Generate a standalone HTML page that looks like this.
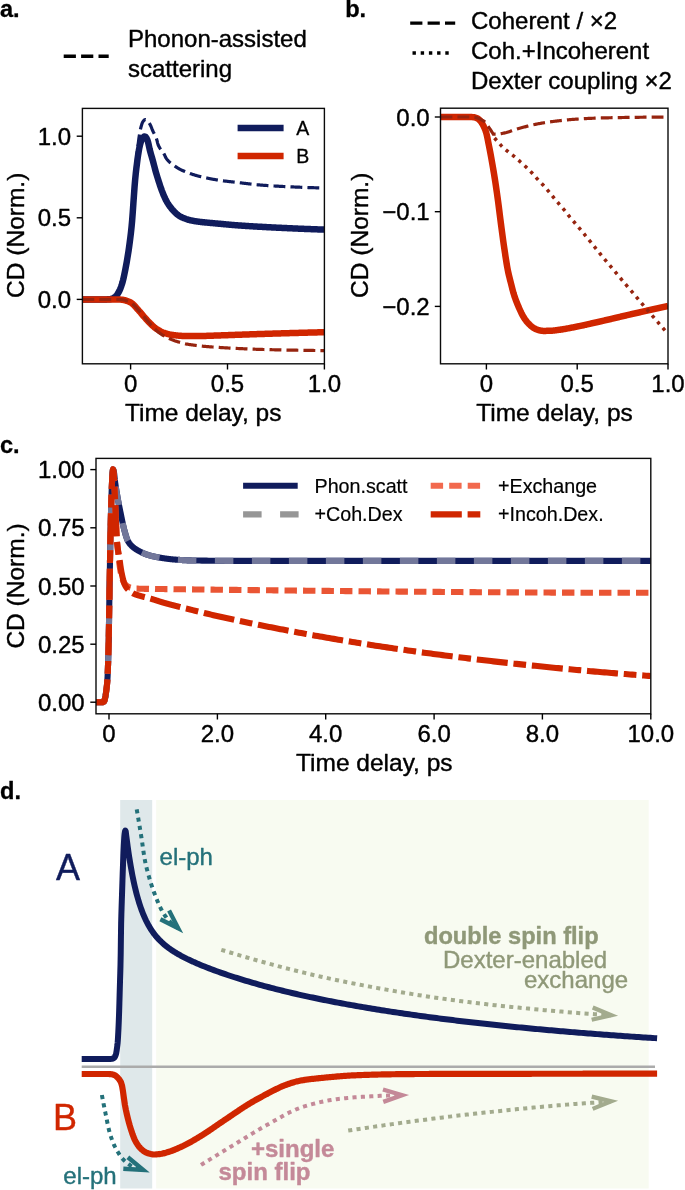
<!DOCTYPE html>
<html><head><meta charset="utf-8"><title>Figure</title>
<style>
html,body{margin:0;padding:0;background:#fff;}
svg{display:block;font-family:"Liberation Sans",sans-serif;}
</style></head><body>
<svg width="685" height="1190" viewBox="0 0 685 1190">
<rect width="685" height="1190" fill="#fff"/>
<text transform="translate(0.00,17.00)" font-size="23.6" text-anchor="start" font-weight="bold" fill="#000" stroke="#000" stroke-width="0.3" stroke-linejoin="round">a.</text>
<text transform="translate(345.20,17.00)" font-size="23.6" text-anchor="start" font-weight="bold" fill="#000" stroke="#000" stroke-width="0.3" stroke-linejoin="round">b.</text>
<text transform="translate(0.00,453.00)" font-size="23.6" text-anchor="start" font-weight="bold" fill="#000" stroke="#000" stroke-width="0.3" stroke-linejoin="round">c.</text>
<text transform="translate(0.00,799.20)" font-size="23.6" text-anchor="start" font-weight="bold" fill="#000" stroke="#000" stroke-width="0.3" stroke-linejoin="round">d.</text>
<clipPath id="clipA"><rect x="82.4" y="108.4" width="241.99999999999997" height="255.4"/></clipPath>
<line x1="63.70" y1="56.30" x2="108.70" y2="56.30" stroke="#000" stroke-width="3.4" stroke-dasharray="12.2 5.2"/>
<text transform="translate(128.00,47.40)" font-size="24" text-anchor="start" font-weight="normal" fill="#000" stroke="#000" stroke-width="0.4" stroke-linejoin="round">Phonon-assisted</text>
<text transform="translate(128.00,76.60)" font-size="24" text-anchor="start" font-weight="normal" fill="#000" stroke="#000" stroke-width="0.4" stroke-linejoin="round">scattering</text>
<path d="M82.40,299.40 L83.01,299.40 L83.61,299.40 L84.22,299.40 L84.83,299.40 L85.43,299.40 L86.04,299.40 L86.65,299.40 L87.25,299.40 L87.86,299.40 L88.47,299.40 L89.07,299.40 L89.68,299.40 L90.28,299.40 L90.89,299.40 L91.50,299.40 L92.10,299.40 L92.71,299.40 L93.32,299.40 L93.92,299.40 L94.53,299.40 L95.14,299.40 L95.74,299.40 L96.35,299.40 L96.96,299.40 L97.56,299.40 L98.17,299.40 L98.78,299.40 L99.38,299.40 L99.99,299.40 L100.60,299.40 L101.20,299.40 L101.81,299.40 L102.42,299.40 L103.02,299.40 L103.63,299.40 L104.23,299.40 L104.84,299.40 L105.45,299.40 L106.05,299.39 L106.66,299.38 L107.27,299.36 L107.87,299.33 L108.48,299.30 L109.09,299.26 L109.69,299.22 L110.30,299.17 L110.91,299.03 L111.51,298.81 L112.12,298.53 L112.73,298.19 L113.33,297.81 L113.94,297.40 L114.55,296.97 L115.15,296.44 L115.76,295.79 L116.36,295.02 L116.97,294.15 L117.58,293.20 L118.18,292.18 L118.79,291.03 L119.40,289.72 L120.00,288.25 L120.61,286.64 L121.22,284.87 L121.82,282.94 L122.43,280.69 L123.04,278.17 L123.64,275.41 L124.25,272.46 L124.86,269.38 L125.46,266.20 L126.07,262.91 L126.68,259.42 L127.28,255.74 L127.89,251.84 L128.50,247.72 L129.10,243.36 L129.71,238.76 L130.31,233.77 L130.92,228.21 L131.53,221.89 L132.13,214.08 L132.74,205.33 L133.35,196.89 L133.95,188.46 L134.56,180.55 L135.17,173.25 L135.77,166.40 L136.38,160.11 L136.99,154.48 L137.59,149.19 L138.20,143.83 L138.81,138.94 L139.41,134.98 L140.02,131.47 L140.63,128.50 L141.23,126.17 L141.84,124.14 L142.45,122.50 L143.05,121.43 L143.66,120.71 L144.26,120.09 L144.87,119.67 L145.48,119.50 L146.08,119.67 L146.69,120.12 L147.30,120.73 L147.90,121.40 L148.51,122.09 L149.12,122.93 L149.72,123.90 L150.33,124.98 L150.94,126.23 L151.54,127.80 L152.15,129.38 L152.76,130.75 L153.36,132.00 L153.97,133.19 L154.58,134.38 L155.18,135.62 L155.79,136.99 L156.39,138.54 L157.00,140.41 L157.61,143.12 L158.21,145.02 L158.82,146.34 L159.43,147.46 L160.03,148.42 L160.64,149.28 L161.25,150.06 L161.85,150.81 L162.46,151.58 L163.07,152.39 L163.67,153.30 L164.28,154.35 L164.89,155.64 L165.49,157.02 L166.10,158.16 L166.71,158.97 L167.31,159.71 L167.92,160.41 L168.53,161.06 L169.13,161.66 L169.74,162.23 L170.34,162.76 L170.95,163.27 L171.56,163.75 L172.16,164.21 L172.77,164.65 L173.38,165.08 L173.98,165.51 L174.59,165.93 L175.20,166.36 L175.80,166.78 L176.41,167.19 L177.02,167.59 L177.62,167.97 L178.23,168.33 L178.84,168.68 L179.44,169.01 L180.05,169.32 L180.66,169.63 L181.26,169.93 L181.87,170.21 L182.48,170.50 L183.08,170.77 L183.69,171.04 L184.29,171.30 L184.90,171.56 L185.51,171.81 L186.11,172.05 L186.72,172.29 L187.33,172.52 L187.93,172.75 L188.54,172.98 L189.15,173.20 L189.75,173.41 L190.36,173.63 L190.97,173.83 L191.57,174.04 L192.18,174.24 L192.79,174.44 L193.39,174.64 L194.00,174.83 L194.61,175.01 L195.21,175.20 L195.82,175.38 L196.43,175.55 L197.03,175.73 L197.64,175.89 L198.24,176.06 L198.85,176.21 L199.46,176.37 L200.06,176.52 L200.67,176.66 L201.28,176.81 L201.88,176.95 L202.49,177.09 L203.10,177.23 L203.70,177.37 L204.31,177.50 L204.92,177.64 L205.52,177.77 L206.13,177.90 L206.74,178.03 L207.34,178.15 L207.95,178.28 L208.56,178.40 L209.16,178.53 L209.77,178.65 L210.37,178.76 L210.98,178.88 L211.59,179.00 L212.19,179.11 L212.80,179.22 L213.41,179.33 L214.01,179.44 L214.62,179.54 L215.23,179.65 L215.83,179.75 L216.44,179.85 L217.05,179.95 L217.65,180.04 L218.26,180.14 L218.87,180.23 L219.47,180.32 L220.08,180.41 L220.69,180.50 L221.29,180.58 L221.90,180.67 L222.51,180.75 L223.11,180.83 L223.72,180.90 L224.32,180.98 L224.93,181.05 L225.54,181.13 L226.14,181.20 L226.75,181.27 L227.36,181.34 L227.96,181.40 L228.57,181.47 L229.18,181.54 L229.78,181.61 L230.39,181.67 L231.00,181.74 L231.60,181.80 L232.21,181.87 L232.82,181.93 L233.42,182.00 L234.03,182.07 L234.64,182.13 L235.24,182.20 L235.85,182.27 L236.46,182.34 L237.06,182.41 L237.67,182.48 L238.27,182.55 L238.88,182.62 L239.49,182.69 L240.09,182.77 L240.70,182.84 L241.31,182.92 L241.91,182.99 L242.52,183.07 L243.13,183.14 L243.73,183.22 L244.34,183.29 L244.95,183.37 L245.55,183.44 L246.16,183.52 L246.77,183.59 L247.37,183.67 L247.98,183.74 L248.59,183.81 L249.19,183.89 L249.80,183.96 L250.41,184.03 L251.01,184.10 L251.62,184.17 L252.22,184.24 L252.83,184.31 L253.44,184.37 L254.04,184.44 L254.65,184.50 L255.26,184.57 L255.86,184.63 L256.47,184.69 L257.08,184.75 L257.68,184.80 L258.29,184.86 L258.90,184.91 L259.50,184.96 L260.11,185.01 L260.72,185.06 L261.32,185.10 L261.93,185.15 L262.54,185.20 L263.14,185.24 L263.75,185.29 L264.35,185.33 L264.96,185.38 L265.57,185.42 L266.17,185.46 L266.78,185.50 L267.39,185.55 L267.99,185.59 L268.60,185.63 L269.21,185.67 L269.81,185.71 L270.42,185.75 L271.03,185.79 L271.63,185.83 L272.24,185.86 L272.85,185.90 L273.45,185.94 L274.06,185.98 L274.67,186.01 L275.27,186.05 L275.88,186.08 L276.49,186.12 L277.09,186.15 L277.70,186.19 L278.30,186.22 L278.91,186.25 L279.52,186.29 L280.12,186.32 L280.73,186.35 L281.34,186.38 L281.94,186.41 L282.55,186.45 L283.16,186.48 L283.76,186.51 L284.37,186.54 L284.98,186.57 L285.58,186.60 L286.19,186.62 L286.80,186.65 L287.40,186.68 L288.01,186.71 L288.62,186.74 L289.22,186.77 L289.83,186.79 L290.44,186.82 L291.04,186.85 L291.65,186.87 L292.25,186.90 L292.86,186.93 L293.47,186.95 L294.07,186.98 L294.68,187.00 L295.29,187.03 L295.89,187.06 L296.50,187.08 L297.11,187.11 L297.71,187.13 L298.32,187.16 L298.93,187.18 L299.53,187.21 L300.14,187.23 L300.75,187.25 L301.35,187.28 L301.96,187.30 L302.57,187.33 L303.17,187.35 L303.78,187.37 L304.38,187.40 L304.99,187.42 L305.60,187.44 L306.20,187.46 L306.81,187.48 L307.42,187.51 L308.02,187.53 L308.63,187.55 L309.24,187.57 L309.84,187.59 L310.45,187.61 L311.06,187.63 L311.66,187.65 L312.27,187.67 L312.88,187.69 L313.48,187.71 L314.09,187.73 L314.70,187.75 L315.30,187.77 L315.91,187.78 L316.52,187.80 L317.12,187.82 L317.73,187.84 L318.33,187.85 L318.94,187.87 L319.55,187.88 L320.15,187.90 L320.76,187.92 L321.37,187.93 L321.97,187.95 L322.58,187.96 L323.19,187.97 L323.79,187.99 L324.40,188.00" fill="none" stroke="#101c5c" stroke-width="3.2" stroke-linecap="butt" stroke-linejoin="round" stroke-dasharray="11.84 5.12" clip-path="url(#clipA)" />
<path d="M82.40,299.40 L83.01,299.40 L83.61,299.40 L84.22,299.40 L84.83,299.40 L85.43,299.40 L86.04,299.40 L86.65,299.40 L87.25,299.40 L87.86,299.40 L88.47,299.40 L89.07,299.40 L89.68,299.40 L90.28,299.40 L90.89,299.40 L91.50,299.40 L92.10,299.40 L92.71,299.40 L93.32,299.40 L93.92,299.40 L94.53,299.40 L95.14,299.40 L95.74,299.40 L96.35,299.40 L96.96,299.40 L97.56,299.40 L98.17,299.40 L98.78,299.40 L99.38,299.40 L99.99,299.40 L100.60,299.40 L101.20,299.40 L101.81,299.40 L102.42,299.40 L103.02,299.40 L103.63,299.40 L104.23,299.40 L104.84,299.40 L105.45,299.40 L106.05,299.39 L106.66,299.38 L107.27,299.36 L107.87,299.33 L108.48,299.30 L109.09,299.26 L109.69,299.22 L110.30,299.17 L110.91,299.06 L111.51,298.88 L112.12,298.65 L112.73,298.37 L113.33,298.04 L113.94,297.69 L114.55,297.30 L115.15,296.89 L115.76,296.36 L116.36,295.68 L116.97,294.89 L117.58,293.99 L118.18,293.02 L118.79,291.99 L119.40,290.81 L120.00,289.47 L120.61,287.98 L121.22,286.34 L121.82,284.55 L122.43,282.57 L123.04,280.27 L123.64,277.70 L124.25,274.90 L124.86,271.93 L125.46,268.82 L126.07,265.63 L126.68,262.31 L127.28,258.79 L127.89,255.07 L128.50,251.14 L129.10,246.97 L129.71,242.57 L130.31,237.92 L130.92,232.84 L131.53,227.16 L132.13,220.65 L132.74,212.56 L133.35,203.82 L133.95,195.26 L134.56,186.68 L135.17,179.51 L135.77,173.53 L136.38,168.20 L136.99,163.32 L137.59,158.69 L138.20,154.37 L138.81,150.67 L139.41,147.50 L140.02,144.75 L140.63,142.61 L141.23,140.82 L141.84,139.33 L142.45,138.27 L143.05,137.54 L143.66,136.91 L144.26,136.50 L144.87,136.42 L145.48,136.80 L146.08,137.56 L146.69,138.56 L147.30,139.70 L147.90,141.51 L148.51,144.04 L149.12,146.87 L149.72,149.60 L150.33,151.91 L150.94,154.06 L151.54,156.15 L152.15,158.24 L152.76,160.38 L153.36,162.62 L153.97,164.95 L154.58,167.30 L155.18,169.59 L155.79,171.76 L156.39,173.85 L157.00,175.88 L157.61,177.85 L158.21,179.79 L158.82,181.67 L159.43,183.55 L160.03,185.39 L160.64,187.20 L161.25,188.94 L161.85,190.60 L162.46,192.16 L163.07,193.68 L163.67,195.16 L164.28,196.58 L164.89,197.94 L165.49,199.23 L166.10,200.44 L166.71,201.55 L167.31,202.60 L167.92,203.58 L168.53,204.51 L169.13,205.40 L169.74,206.24 L170.34,207.06 L170.95,207.84 L171.56,208.59 L172.16,209.30 L172.77,209.99 L173.38,210.66 L173.98,211.31 L174.59,211.95 L175.20,212.56 L175.80,213.15 L176.41,213.71 L177.02,214.21 L177.62,214.69 L178.23,215.14 L178.84,215.56 L179.44,215.96 L180.05,216.33 L180.66,216.68 L181.26,216.99 L181.87,217.30 L182.48,217.58 L183.08,217.85 L183.69,218.11 L184.29,218.35 L184.90,218.58 L185.51,218.80 L186.11,219.02 L186.72,219.22 L187.33,219.42 L187.93,219.61 L188.54,219.80 L189.15,219.97 L189.75,220.13 L190.36,220.28 L190.97,220.41 L191.57,220.54 L192.18,220.66 L192.79,220.77 L193.39,220.89 L194.00,220.99 L194.61,221.09 L195.21,221.19 L195.82,221.29 L196.43,221.38 L197.03,221.47 L197.64,221.55 L198.24,221.64 L198.85,221.72 L199.46,221.80 L200.06,221.87 L200.67,221.95 L201.28,222.02 L201.88,222.09 L202.49,222.16 L203.10,222.23 L203.70,222.29 L204.31,222.35 L204.92,222.41 L205.52,222.47 L206.13,222.53 L206.74,222.58 L207.34,222.64 L207.95,222.69 L208.56,222.75 L209.16,222.80 L209.77,222.86 L210.37,222.91 L210.98,222.97 L211.59,223.03 L212.19,223.08 L212.80,223.14 L213.41,223.20 L214.01,223.25 L214.62,223.31 L215.23,223.37 L215.83,223.42 L216.44,223.48 L217.05,223.53 L217.65,223.59 L218.26,223.64 L218.87,223.70 L219.47,223.75 L220.08,223.81 L220.69,223.86 L221.29,223.92 L221.90,223.97 L222.51,224.03 L223.11,224.09 L223.72,224.14 L224.32,224.20 L224.93,224.26 L225.54,224.31 L226.14,224.37 L226.75,224.43 L227.36,224.48 L227.96,224.54 L228.57,224.59 L229.18,224.65 L229.78,224.71 L230.39,224.76 L231.00,224.81 L231.60,224.87 L232.21,224.92 L232.82,224.97 L233.42,225.02 L234.03,225.07 L234.64,225.12 L235.24,225.17 L235.85,225.21 L236.46,225.26 L237.06,225.30 L237.67,225.35 L238.27,225.39 L238.88,225.43 L239.49,225.48 L240.09,225.52 L240.70,225.56 L241.31,225.60 L241.91,225.65 L242.52,225.69 L243.13,225.73 L243.73,225.77 L244.34,225.81 L244.95,225.85 L245.55,225.89 L246.16,225.93 L246.77,225.97 L247.37,226.01 L247.98,226.05 L248.59,226.08 L249.19,226.12 L249.80,226.16 L250.41,226.20 L251.01,226.24 L251.62,226.27 L252.22,226.31 L252.83,226.35 L253.44,226.38 L254.04,226.42 L254.65,226.46 L255.26,226.49 L255.86,226.53 L256.47,226.56 L257.08,226.60 L257.68,226.63 L258.29,226.67 L258.90,226.70 L259.50,226.74 L260.11,226.77 L260.72,226.81 L261.32,226.84 L261.93,226.87 L262.54,226.91 L263.14,226.94 L263.75,226.97 L264.35,227.01 L264.96,227.04 L265.57,227.07 L266.17,227.10 L266.78,227.14 L267.39,227.17 L267.99,227.20 L268.60,227.23 L269.21,227.26 L269.81,227.29 L270.42,227.33 L271.03,227.36 L271.63,227.39 L272.24,227.42 L272.85,227.45 L273.45,227.48 L274.06,227.51 L274.67,227.54 L275.27,227.57 L275.88,227.60 L276.49,227.63 L277.09,227.66 L277.70,227.69 L278.30,227.72 L278.91,227.75 L279.52,227.78 L280.12,227.81 L280.73,227.83 L281.34,227.86 L281.94,227.89 L282.55,227.92 L283.16,227.95 L283.76,227.98 L284.37,228.01 L284.98,228.03 L285.58,228.06 L286.19,228.09 L286.80,228.12 L287.40,228.15 L288.01,228.17 L288.62,228.20 L289.22,228.23 L289.83,228.26 L290.44,228.28 L291.04,228.31 L291.65,228.34 L292.25,228.37 L292.86,228.39 L293.47,228.42 L294.07,228.45 L294.68,228.47 L295.29,228.50 L295.89,228.52 L296.50,228.55 L297.11,228.58 L297.71,228.60 L298.32,228.63 L298.93,228.65 L299.53,228.68 L300.14,228.70 L300.75,228.73 L301.35,228.76 L301.96,228.78 L302.57,228.80 L303.17,228.83 L303.78,228.85 L304.38,228.88 L304.99,228.90 L305.60,228.93 L306.20,228.95 L306.81,228.97 L307.42,229.00 L308.02,229.02 L308.63,229.05 L309.24,229.07 L309.84,229.09 L310.45,229.11 L311.06,229.14 L311.66,229.16 L312.27,229.18 L312.88,229.21 L313.48,229.23 L314.09,229.25 L314.70,229.27 L315.30,229.29 L315.91,229.31 L316.52,229.34 L317.12,229.36 L317.73,229.38 L318.33,229.40 L318.94,229.42 L319.55,229.44 L320.15,229.46 L320.76,229.48 L321.37,229.50 L321.97,229.52 L322.58,229.54 L323.19,229.56 L323.79,229.58 L324.40,229.60" fill="none" stroke="#101c5c" stroke-width="6.5" stroke-linecap="butt" stroke-linejoin="round" clip-path="url(#clipA)" />
<path d="M82.40,299.50 L83.01,299.50 L83.61,299.50 L84.22,299.50 L84.83,299.50 L85.43,299.50 L86.04,299.50 L86.65,299.50 L87.25,299.50 L87.86,299.50 L88.47,299.50 L89.07,299.50 L89.68,299.50 L90.28,299.50 L90.89,299.50 L91.50,299.50 L92.10,299.50 L92.71,299.50 L93.32,299.50 L93.92,299.50 L94.53,299.50 L95.14,299.50 L95.74,299.50 L96.35,299.50 L96.96,299.50 L97.56,299.50 L98.17,299.50 L98.78,299.50 L99.38,299.50 L99.99,299.50 L100.60,299.50 L101.20,299.50 L101.81,299.50 L102.42,299.50 L103.02,299.50 L103.63,299.50 L104.23,299.50 L104.84,299.50 L105.45,299.50 L106.05,299.50 L106.66,299.50 L107.27,299.50 L107.87,299.50 L108.48,299.50 L109.09,299.50 L109.69,299.50 L110.30,299.50 L110.91,299.50 L111.51,299.50 L112.12,299.50 L112.73,299.50 L113.33,299.50 L113.94,299.50 L114.55,299.50 L115.15,299.50 L115.76,299.50 L116.36,299.50 L116.97,299.50 L117.58,299.50 L118.18,299.50 L118.79,299.51 L119.40,299.53 L120.00,299.56 L120.61,299.60 L121.22,299.64 L121.82,299.69 L122.43,299.75 L123.04,299.84 L123.64,299.97 L124.25,300.11 L124.86,300.26 L125.46,300.42 L126.07,300.61 L126.68,300.81 L127.28,301.03 L127.89,301.26 L128.50,301.49 L129.10,301.73 L129.71,301.99 L130.31,302.27 L130.92,302.60 L131.53,302.98 L132.13,303.45 L132.74,303.99 L133.35,304.56 L133.95,305.16 L134.56,305.77 L135.17,306.44 L135.77,307.14 L136.38,307.85 L136.99,308.56 L137.59,309.24 L138.20,309.92 L138.81,310.60 L139.41,311.28 L140.02,311.98 L140.63,312.68 L141.23,313.40 L141.84,314.14 L142.45,314.87 L143.05,315.59 L143.66,316.30 L144.26,317.00 L144.87,317.69 L145.48,318.37 L146.08,319.04 L146.69,319.71 L147.30,320.37 L147.90,321.03 L148.51,321.67 L149.12,322.31 L149.72,322.93 L150.33,323.53 L150.94,324.13 L151.54,324.71 L152.15,325.28 L152.76,325.83 L153.36,326.37 L153.97,326.90 L154.58,327.40 L155.18,327.89 L155.79,328.34 L156.39,328.76 L157.00,329.16 L157.61,329.54 L158.21,329.91 L158.82,330.27 L159.43,330.63 L160.03,330.98 L160.64,331.32 L161.25,331.64 L161.85,331.92 L162.46,332.19 L163.07,332.44 L163.67,332.67 L164.28,332.89 L164.89,333.10 L165.49,333.30 L166.10,333.49 L166.71,333.68 L167.31,333.86 L167.92,334.03 L168.53,334.19 L169.13,334.34 L169.74,334.47 L170.34,334.58 L170.95,334.70 L171.56,334.80 L172.16,334.90 L172.77,334.99 L173.38,335.08 L173.98,335.16 L174.59,335.24 L175.20,335.31 L175.80,335.38 L176.41,335.44 L177.02,335.51 L177.62,335.57 L178.23,335.63 L178.84,335.68 L179.44,335.74 L180.05,335.79 L180.66,335.83 L181.26,335.86 L181.87,335.89 L182.48,335.91 L183.08,335.93 L183.69,335.94 L184.29,335.96 L184.90,335.97 L185.51,335.99 L186.11,336.00 L186.72,336.01 L187.33,336.03 L187.93,336.04 L188.54,336.05 L189.15,336.06 L189.75,336.07 L190.36,336.08 L190.97,336.08 L191.57,336.09 L192.18,336.09 L192.79,336.10 L193.39,336.10 L194.00,336.10 L194.61,336.10 L195.21,336.10 L195.82,336.10 L196.43,336.09 L197.03,336.09 L197.64,336.08 L198.24,336.07 L198.85,336.06 L199.46,336.05 L200.06,336.04 L200.67,336.03 L201.28,336.02 L201.88,336.00 L202.49,335.99 L203.10,335.97 L203.70,335.96 L204.31,335.94 L204.92,335.92 L205.52,335.90 L206.13,335.88 L206.74,335.86 L207.34,335.84 L207.95,335.82 L208.56,335.80 L209.16,335.78 L209.77,335.76 L210.37,335.74 L210.98,335.72 L211.59,335.69 L212.19,335.67 L212.80,335.65 L213.41,335.63 L214.01,335.61 L214.62,335.58 L215.23,335.56 L215.83,335.54 L216.44,335.52 L217.05,335.50 L217.65,335.48 L218.26,335.46 L218.87,335.44 L219.47,335.42 L220.08,335.40 L220.69,335.38 L221.29,335.36 L221.90,335.34 L222.51,335.32 L223.11,335.30 L223.72,335.28 L224.32,335.26 L224.93,335.24 L225.54,335.21 L226.14,335.19 L226.75,335.17 L227.36,335.15 L227.96,335.13 L228.57,335.10 L229.18,335.08 L229.78,335.06 L230.39,335.04 L231.00,335.01 L231.60,334.99 L232.21,334.97 L232.82,334.95 L233.42,334.93 L234.03,334.90 L234.64,334.88 L235.24,334.86 L235.85,334.84 L236.46,334.82 L237.06,334.80 L237.67,334.78 L238.27,334.76 L238.88,334.74 L239.49,334.72 L240.09,334.69 L240.70,334.67 L241.31,334.65 L241.91,334.63 L242.52,334.61 L243.13,334.59 L243.73,334.57 L244.34,334.55 L244.95,334.53 L245.55,334.51 L246.16,334.49 L246.77,334.47 L247.37,334.45 L247.98,334.43 L248.59,334.41 L249.19,334.39 L249.80,334.37 L250.41,334.35 L251.01,334.32 L251.62,334.30 L252.22,334.28 L252.83,334.26 L253.44,334.24 L254.04,334.22 L254.65,334.20 L255.26,334.18 L255.86,334.16 L256.47,334.14 L257.08,334.12 L257.68,334.10 L258.29,334.08 L258.90,334.06 L259.50,334.04 L260.11,334.02 L260.72,334.00 L261.32,333.98 L261.93,333.96 L262.54,333.94 L263.14,333.92 L263.75,333.90 L264.35,333.88 L264.96,333.87 L265.57,333.85 L266.17,333.83 L266.78,333.81 L267.39,333.79 L267.99,333.77 L268.60,333.75 L269.21,333.73 L269.81,333.71 L270.42,333.69 L271.03,333.67 L271.63,333.65 L272.24,333.64 L272.85,333.62 L273.45,333.60 L274.06,333.58 L274.67,333.56 L275.27,333.54 L275.88,333.52 L276.49,333.51 L277.09,333.49 L277.70,333.47 L278.30,333.45 L278.91,333.43 L279.52,333.41 L280.12,333.40 L280.73,333.38 L281.34,333.36 L281.94,333.34 L282.55,333.32 L283.16,333.31 L283.76,333.29 L284.37,333.27 L284.98,333.25 L285.58,333.24 L286.19,333.22 L286.80,333.20 L287.40,333.18 L288.01,333.17 L288.62,333.15 L289.22,333.13 L289.83,333.11 L290.44,333.10 L291.04,333.08 L291.65,333.06 L292.25,333.05 L292.86,333.03 L293.47,333.01 L294.07,332.99 L294.68,332.98 L295.29,332.96 L295.89,332.94 L296.50,332.93 L297.11,332.91 L297.71,332.89 L298.32,332.88 L298.93,332.86 L299.53,332.84 L300.14,332.83 L300.75,332.81 L301.35,332.79 L301.96,332.78 L302.57,332.76 L303.17,332.74 L303.78,332.73 L304.38,332.71 L304.99,332.70 L305.60,332.68 L306.20,332.66 L306.81,332.65 L307.42,332.63 L308.02,332.61 L308.63,332.60 L309.24,332.58 L309.84,332.57 L310.45,332.55 L311.06,332.54 L311.66,332.52 L312.27,332.50 L312.88,332.49 L313.48,332.47 L314.09,332.46 L314.70,332.44 L315.30,332.43 L315.91,332.41 L316.52,332.40 L317.12,332.38 L317.73,332.36 L318.33,332.35 L318.94,332.33 L319.55,332.32 L320.15,332.30 L320.76,332.29 L321.37,332.27 L321.97,332.26 L322.58,332.24 L323.19,332.23 L323.79,332.21 L324.40,332.20" fill="none" stroke="#d02600" stroke-width="6.5" stroke-linecap="butt" stroke-linejoin="round" clip-path="url(#clipA)" />
<path d="M82.40,299.50 L83.01,299.50 L83.61,299.50 L84.22,299.50 L84.83,299.50 L85.43,299.50 L86.04,299.50 L86.65,299.50 L87.25,299.50 L87.86,299.50 L88.47,299.50 L89.07,299.50 L89.68,299.50 L90.28,299.50 L90.89,299.50 L91.50,299.50 L92.10,299.50 L92.71,299.50 L93.32,299.50 L93.92,299.50 L94.53,299.50 L95.14,299.50 L95.74,299.50 L96.35,299.50 L96.96,299.50 L97.56,299.50 L98.17,299.50 L98.78,299.50 L99.38,299.50 L99.99,299.50 L100.60,299.50 L101.20,299.50 L101.81,299.50 L102.42,299.50 L103.02,299.50 L103.63,299.50 L104.23,299.50 L104.84,299.50 L105.45,299.50 L106.05,299.50 L106.66,299.50 L107.27,299.50 L107.87,299.50 L108.48,299.50 L109.09,299.50 L109.69,299.50 L110.30,299.50 L110.91,299.50 L111.51,299.50 L112.12,299.50 L112.73,299.50 L113.33,299.50 L113.94,299.50 L114.55,299.50 L115.15,299.50 L115.76,299.50 L116.36,299.50 L116.97,299.50 L117.58,299.50 L118.18,299.50 L118.79,299.51 L119.40,299.53 L120.00,299.56 L120.61,299.60 L121.22,299.64 L121.82,299.69 L122.43,299.75 L123.04,299.84 L123.64,299.97 L124.25,300.11 L124.86,300.26 L125.46,300.42 L126.07,300.61 L126.68,300.81 L127.28,301.03 L127.89,301.26 L128.50,301.49 L129.10,301.73 L129.71,301.99 L130.31,302.27 L130.92,302.60 L131.53,302.98 L132.13,303.45 L132.74,303.99 L133.35,304.56 L133.95,305.16 L134.56,305.77 L135.17,306.44 L135.77,307.14 L136.38,307.85 L136.99,308.56 L137.59,309.24 L138.20,309.92 L138.81,310.60 L139.41,311.28 L140.02,311.98 L140.63,312.68 L141.23,313.40 L141.84,314.12 L142.45,314.85 L143.05,315.58 L143.66,316.31 L144.26,317.03 L144.87,317.76 L145.48,318.49 L146.08,319.21 L146.69,319.93 L147.30,320.64 L147.90,321.35 L148.51,322.06 L149.12,322.76 L149.72,323.45 L150.33,324.14 L150.94,324.81 L151.54,325.48 L152.15,326.13 L152.76,326.77 L153.36,327.40 L153.97,328.01 L154.58,328.62 L155.18,329.21 L155.79,329.77 L156.39,330.33 L157.00,330.87 L157.61,331.40 L158.21,331.91 L158.82,332.40 L159.43,332.88 L160.03,333.35 L160.64,333.80 L161.25,334.23 L161.85,334.63 L162.46,335.02 L163.07,335.39 L163.67,335.74 L164.28,336.08 L164.89,336.41 L165.49,336.74 L166.10,337.06 L166.71,337.37 L167.31,337.68 L167.92,337.98 L168.53,338.27 L169.13,338.56 L169.74,338.83 L170.34,339.09 L170.95,339.34 L171.56,339.59 L172.16,339.82 L172.77,340.05 L173.38,340.28 L173.98,340.49 L174.59,340.71 L175.20,340.91 L175.80,341.12 L176.41,341.31 L177.02,341.51 L177.62,341.70 L178.23,341.88 L178.84,342.06 L179.44,342.24 L180.05,342.41 L180.66,342.58 L181.26,342.76 L181.87,342.92 L182.48,343.09 L183.08,343.25 L183.69,343.41 L184.29,343.56 L184.90,343.70 L185.51,343.84 L186.11,343.96 L186.72,344.08 L187.33,344.19 L187.93,344.30 L188.54,344.40 L189.15,344.50 L189.75,344.60 L190.36,344.69 L190.97,344.78 L191.57,344.87 L192.18,344.95 L192.79,345.04 L193.39,345.12 L194.00,345.20 L194.61,345.28 L195.21,345.36 L195.82,345.44 L196.43,345.51 L197.03,345.59 L197.64,345.66 L198.24,345.74 L198.85,345.81 L199.46,345.88 L200.06,345.94 L200.67,346.01 L201.28,346.07 L201.88,346.13 L202.49,346.19 L203.10,346.25 L203.70,346.30 L204.31,346.36 L204.92,346.41 L205.52,346.46 L206.13,346.51 L206.74,346.56 L207.34,346.61 L207.95,346.66 L208.56,346.71 L209.16,346.75 L209.77,346.80 L210.37,346.85 L210.98,346.89 L211.59,346.94 L212.19,346.98 L212.80,347.02 L213.41,347.06 L214.01,347.11 L214.62,347.15 L215.23,347.19 L215.83,347.23 L216.44,347.27 L217.05,347.31 L217.65,347.35 L218.26,347.39 L218.87,347.43 L219.47,347.47 L220.08,347.51 L220.69,347.54 L221.29,347.58 L221.90,347.62 L222.51,347.66 L223.11,347.69 L223.72,347.73 L224.32,347.77 L224.93,347.80 L225.54,347.84 L226.14,347.87 L226.75,347.91 L227.36,347.94 L227.96,347.98 L228.57,348.01 L229.18,348.05 L229.78,348.08 L230.39,348.11 L231.00,348.15 L231.60,348.18 L232.21,348.21 L232.82,348.24 L233.42,348.28 L234.03,348.31 L234.64,348.34 L235.24,348.37 L235.85,348.40 L236.46,348.43 L237.06,348.46 L237.67,348.49 L238.27,348.52 L238.88,348.55 L239.49,348.58 L240.09,348.60 L240.70,348.63 L241.31,348.66 L241.91,348.69 L242.52,348.72 L243.13,348.74 L243.73,348.77 L244.34,348.80 L244.95,348.82 L245.55,348.85 L246.16,348.88 L246.77,348.90 L247.37,348.93 L247.98,348.96 L248.59,348.98 L249.19,349.01 L249.80,349.03 L250.41,349.06 L251.01,349.08 L251.62,349.11 L252.22,349.13 L252.83,349.15 L253.44,349.18 L254.04,349.20 L254.65,349.22 L255.26,349.24 L255.86,349.26 L256.47,349.29 L257.08,349.31 L257.68,349.33 L258.29,349.35 L258.90,349.37 L259.50,349.38 L260.11,349.40 L260.72,349.42 L261.32,349.44 L261.93,349.46 L262.54,349.47 L263.14,349.49 L263.75,349.51 L264.35,349.53 L264.96,349.54 L265.57,349.56 L266.17,349.58 L266.78,349.59 L267.39,349.61 L267.99,349.62 L268.60,349.64 L269.21,349.65 L269.81,349.67 L270.42,349.69 L271.03,349.70 L271.63,349.72 L272.24,349.73 L272.85,349.74 L273.45,349.76 L274.06,349.77 L274.67,349.79 L275.27,349.80 L275.88,349.82 L276.49,349.83 L277.09,349.84 L277.70,349.86 L278.30,349.87 L278.91,349.88 L279.52,349.89 L280.12,349.91 L280.73,349.92 L281.34,349.93 L281.94,349.95 L282.55,349.96 L283.16,349.97 L283.76,349.98 L284.37,349.99 L284.98,350.01 L285.58,350.02 L286.19,350.03 L286.80,350.04 L287.40,350.05 L288.01,350.06 L288.62,350.07 L289.22,350.09 L289.83,350.10 L290.44,350.11 L291.04,350.12 L291.65,350.13 L292.25,350.14 L292.86,350.15 L293.47,350.16 L294.07,350.17 L294.68,350.18 L295.29,350.19 L295.89,350.20 L296.50,350.21 L297.11,350.22 L297.71,350.23 L298.32,350.24 L298.93,350.25 L299.53,350.26 L300.14,350.27 L300.75,350.28 L301.35,350.29 L301.96,350.30 L302.57,350.31 L303.17,350.32 L303.78,350.33 L304.38,350.34 L304.99,350.35 L305.60,350.36 L306.20,350.37 L306.81,350.38 L307.42,350.39 L308.02,350.40 L308.63,350.41 L309.24,350.41 L309.84,350.42 L310.45,350.43 L311.06,350.44 L311.66,350.45 L312.27,350.46 L312.88,350.47 L313.48,350.47 L314.09,350.48 L314.70,350.49 L315.30,350.50 L315.91,350.50 L316.52,350.51 L317.12,350.52 L317.73,350.53 L318.33,350.53 L318.94,350.54 L319.55,350.55 L320.15,350.56 L320.76,350.56 L321.37,350.57 L321.97,350.58 L322.58,350.58 L323.19,350.59 L323.79,350.59 L324.40,350.60" fill="none" stroke="#96240f" stroke-width="3.2" stroke-linecap="butt" stroke-linejoin="round" stroke-dasharray="11.84 5.12" clip-path="url(#clipA)" />
<line x1="237.60" y1="128.00" x2="283.60" y2="128.00" stroke="#101c5c" stroke-width="6.5" />
<line x1="237.60" y1="156.00" x2="283.60" y2="156.00" stroke="#d02600" stroke-width="6.5" />
<text transform="translate(296.30,135.20)" font-size="19.5" text-anchor="start" font-weight="normal" fill="#000" stroke="#000" stroke-width="0.3" stroke-linejoin="round">A</text>
<text transform="translate(296.30,163.20)" font-size="19.5" text-anchor="start" font-weight="normal" fill="#000" stroke="#000" stroke-width="0.3" stroke-linejoin="round">B</text>
<rect x="82.4" y="108.4" width="242.00" height="255.40" fill="none" stroke="#0a0a0a" stroke-width="1.4"/>
<line x1="130.60" y1="363.80" x2="130.60" y2="369.50" stroke="#000" stroke-width="1.4" />
<text transform="translate(130.60,391.80)" font-size="24" text-anchor="middle" font-weight="normal" fill="#000" stroke="#000" stroke-width="0.4" stroke-linejoin="round">0</text>
<line x1="227.50" y1="363.80" x2="227.50" y2="369.50" stroke="#000" stroke-width="1.4" />
<text transform="translate(227.50,391.80)" font-size="24" text-anchor="middle" font-weight="normal" fill="#000" stroke="#000" stroke-width="0.4" stroke-linejoin="round">0.5</text>
<line x1="324.40" y1="363.80" x2="324.40" y2="369.50" stroke="#000" stroke-width="1.4" />
<text transform="translate(324.40,391.80)" font-size="24" text-anchor="middle" font-weight="normal" fill="#000" stroke="#000" stroke-width="0.4" stroke-linejoin="round">1.0</text>
<line x1="76.70" y1="136.20" x2="82.40" y2="136.20" stroke="#000" stroke-width="1.4" />
<text transform="translate(71.00,144.80)" font-size="24" text-anchor="end" font-weight="normal" fill="#000" stroke="#000" stroke-width="0.4" stroke-linejoin="round">1.0</text>
<line x1="76.70" y1="217.80" x2="82.40" y2="217.80" stroke="#000" stroke-width="1.4" />
<text transform="translate(71.00,226.40)" font-size="24" text-anchor="end" font-weight="normal" fill="#000" stroke="#000" stroke-width="0.4" stroke-linejoin="round">0.5</text>
<line x1="76.70" y1="299.40" x2="82.40" y2="299.40" stroke="#000" stroke-width="1.4" />
<text transform="translate(71.00,308.00)" font-size="24" text-anchor="end" font-weight="normal" fill="#000" stroke="#000" stroke-width="0.4" stroke-linejoin="round">0.0</text>
<text transform="translate(203.20,420.50)" font-size="24.5" text-anchor="middle" font-weight="normal" fill="#000" stroke="#000" stroke-width="0.4" stroke-linejoin="round">Time delay, ps</text>
<text transform="translate(24.00,235.30) rotate(-90)" font-size="24.5" text-anchor="middle" font-weight="normal" fill="#000" stroke="#000" stroke-width="0.4" stroke-linejoin="round">CD (Norm.)</text>
<clipPath id="clipB"><rect x="440.5" y="108.2" width="227.5" height="255.60000000000002"/></clipPath>
<line x1="410.20" y1="23.10" x2="455.20" y2="23.10" stroke="#000" stroke-width="3.4" stroke-dasharray="12.2 5.2"/>
<line x1="412.50" y1="53.00" x2="449.90" y2="53.00" stroke="#000" stroke-width="3.4" stroke-dasharray="3.4 4.8"/>
<text transform="translate(471.00,29.10)" font-size="24" text-anchor="start" font-weight="normal" fill="#000" stroke="#000" stroke-width="0.4" stroke-linejoin="round">Coherent / ×2</text>
<text transform="translate(471.00,59.10)" font-size="24" text-anchor="start" font-weight="normal" fill="#000" stroke="#000" stroke-width="0.4" stroke-linejoin="round">Coh.+Incoherent</text>
<text transform="translate(471.00,88.60)" font-size="24" text-anchor="start" font-weight="normal" fill="#000" stroke="#000" stroke-width="0.4" stroke-linejoin="round">Dexter coupling ×2</text>
<path d="M440.50,117.00 L441.07,117.00 L441.64,117.00 L442.21,117.00 L442.78,117.00 L443.35,117.00 L443.92,117.00 L444.49,117.00 L445.06,117.00 L445.63,117.00 L446.20,117.00 L446.77,117.00 L447.34,117.00 L447.91,117.00 L448.48,117.00 L449.05,117.00 L449.62,117.00 L450.19,117.00 L450.76,117.00 L451.33,117.00 L451.90,117.00 L452.47,117.00 L453.04,117.00 L453.61,117.00 L454.18,117.00 L454.75,117.00 L455.32,117.00 L455.89,117.00 L456.46,117.00 L457.04,117.00 L457.61,117.00 L458.18,117.00 L458.75,117.00 L459.32,117.00 L459.89,117.00 L460.46,117.00 L461.03,117.00 L461.60,117.00 L462.17,117.00 L462.74,117.00 L463.31,117.00 L463.88,117.00 L464.45,117.00 L465.02,117.00 L465.59,117.00 L466.16,117.00 L466.73,117.00 L467.30,117.00 L467.87,117.00 L468.44,117.00 L469.01,117.00 L469.58,117.00 L470.15,117.00 L470.72,117.01 L471.29,117.04 L471.86,117.08 L472.43,117.13 L473.00,117.18 L473.57,117.25 L474.14,117.32 L474.71,117.42 L475.28,117.57 L475.85,117.75 L476.42,117.96 L476.99,118.20 L477.56,118.48 L478.13,118.85 L478.70,119.29 L479.27,119.79 L479.84,120.34 L480.41,120.95 L480.98,121.69 L481.55,122.53 L482.12,123.45 L482.69,124.45 L483.26,125.49 L483.83,126.60 L484.40,127.81 L484.97,129.15 L485.54,130.66 L486.11,132.36 L486.68,134.48 L487.25,137.00 L487.82,139.81 L488.39,142.77 L488.96,145.76 L489.54,148.68 L490.11,151.63 L490.68,154.66 L491.25,157.78 L491.82,160.96 L492.39,164.20 L492.96,167.50 L493.53,170.88 L494.10,174.33 L494.67,177.88 L495.24,181.53 L495.81,185.29 L496.38,189.17 L496.95,193.14 L497.52,197.22 L498.09,201.39 L498.66,205.76 L499.23,210.28 L499.80,214.85 L500.37,219.39 L500.94,223.79 L501.51,228.12 L502.08,232.43 L502.65,236.69 L503.22,240.85 L503.79,244.88 L504.36,248.75 L504.93,252.60 L505.50,256.40 L506.07,260.10 L506.64,263.64 L507.21,266.95 L507.78,270.00 L508.35,272.75 L508.92,275.26 L509.49,277.60 L510.06,279.84 L510.63,282.05 L511.20,284.30 L511.77,286.59 L512.34,288.85 L512.91,291.02 L513.48,293.05 L514.05,294.89 L514.62,296.62 L515.19,298.26 L515.76,299.83 L516.33,301.33 L516.90,302.78 L517.47,304.18 L518.04,305.53 L518.61,306.87 L519.18,308.18 L519.75,309.48 L520.32,310.74 L520.89,311.97 L521.46,313.16 L522.04,314.30 L522.61,315.38 L523.18,316.40 L523.75,317.36 L524.32,318.24 L524.89,319.08 L525.46,319.88 L526.03,320.64 L526.60,321.36 L527.17,322.04 L527.74,322.69 L528.31,323.30 L528.88,323.88 L529.45,324.45 L530.02,325.01 L530.59,325.55 L531.16,326.06 L531.73,326.55 L532.30,327.00 L532.87,327.43 L533.44,327.81 L534.01,328.15 L534.58,328.46 L535.15,328.75 L535.72,329.03 L536.29,329.29 L536.86,329.52 L537.43,329.74 L538.00,329.93 L538.57,330.10 L539.14,330.23 L539.71,330.36 L540.28,330.48 L540.85,330.60 L541.42,330.71 L541.99,330.79 L542.56,330.86 L543.13,330.89 L543.70,330.90 L544.27,330.90 L544.84,330.89 L545.41,330.89 L545.98,330.88 L546.55,330.87 L547.12,330.86 L547.69,330.85 L548.26,330.84 L548.83,330.83 L549.40,330.81 L549.97,330.80 L550.54,330.78 L551.11,330.75 L551.68,330.72 L552.25,330.68 L552.82,330.63 L553.39,330.57 L553.96,330.51 L554.54,330.44 L555.11,330.37 L555.68,330.30 L556.25,330.22 L556.82,330.14 L557.39,330.06 L557.96,329.98 L558.53,329.90 L559.10,329.82 L559.67,329.75 L560.24,329.67 L560.81,329.59 L561.38,329.51 L561.95,329.42 L562.52,329.33 L563.09,329.24 L563.66,329.15 L564.23,329.05 L564.80,328.95 L565.37,328.85 L565.94,328.75 L566.51,328.65 L567.08,328.54 L567.65,328.43 L568.22,328.33 L568.79,328.22 L569.36,328.11 L569.93,328.00 L570.50,327.89 L571.07,327.77 L571.64,327.66 L572.21,327.55 L572.78,327.44 L573.35,327.33 L573.92,327.22 L574.49,327.10 L575.06,326.99 L575.63,326.88 L576.20,326.76 L576.77,326.65 L577.34,326.53 L577.91,326.41 L578.48,326.30 L579.05,326.18 L579.62,326.06 L580.19,325.94 L580.76,325.82 L581.33,325.69 L581.90,325.57 L582.47,325.45 L583.04,325.32 L583.61,325.20 L584.18,325.08 L584.75,324.95 L585.32,324.82 L585.89,324.70 L586.46,324.57 L587.04,324.44 L587.61,324.32 L588.18,324.19 L588.75,324.06 L589.32,323.93 L589.89,323.80 L590.46,323.67 L591.03,323.54 L591.60,323.41 L592.17,323.28 L592.74,323.15 L593.31,323.02 L593.88,322.89 L594.45,322.76 L595.02,322.63 L595.59,322.50 L596.16,322.37 L596.73,322.24 L597.30,322.11 L597.87,321.98 L598.44,321.85 L599.01,321.72 L599.58,321.60 L600.15,321.47 L600.72,321.34 L601.29,321.21 L601.86,321.08 L602.43,320.95 L603.00,320.82 L603.57,320.69 L604.14,320.55 L604.71,320.42 L605.28,320.29 L605.85,320.16 L606.42,320.03 L606.99,319.89 L607.56,319.76 L608.13,319.63 L608.70,319.49 L609.27,319.36 L609.84,319.23 L610.41,319.09 L610.98,318.96 L611.55,318.82 L612.12,318.69 L612.69,318.56 L613.26,318.42 L613.83,318.29 L614.40,318.15 L614.97,318.02 L615.54,317.88 L616.11,317.75 L616.68,317.61 L617.25,317.48 L617.82,317.34 L618.39,317.21 L618.96,317.07 L619.54,316.94 L620.11,316.80 L620.68,316.67 L621.25,316.54 L621.82,316.40 L622.39,316.27 L622.96,316.13 L623.53,316.00 L624.10,315.87 L624.67,315.73 L625.24,315.60 L625.81,315.47 L626.38,315.33 L626.95,315.20 L627.52,315.07 L628.09,314.94 L628.66,314.81 L629.23,314.68 L629.80,314.55 L630.37,314.42 L630.94,314.29 L631.51,314.16 L632.08,314.03 L632.65,313.90 L633.22,313.77 L633.79,313.64 L634.36,313.51 L634.93,313.38 L635.50,313.25 L636.07,313.12 L636.64,312.99 L637.21,312.86 L637.78,312.73 L638.35,312.60 L638.92,312.47 L639.49,312.34 L640.06,312.21 L640.63,312.08 L641.20,311.95 L641.77,311.83 L642.34,311.70 L642.91,311.57 L643.48,311.44 L644.05,311.31 L644.62,311.18 L645.19,311.06 L645.76,310.93 L646.33,310.80 L646.90,310.67 L647.47,310.54 L648.04,310.42 L648.61,310.29 L649.18,310.16 L649.75,310.03 L650.32,309.90 L650.89,309.78 L651.46,309.65 L652.04,309.52 L652.61,309.40 L653.18,309.27 L653.75,309.14 L654.32,309.02 L654.89,308.89 L655.46,308.76 L656.03,308.64 L656.60,308.51 L657.17,308.38 L657.74,308.26 L658.31,308.13 L658.88,308.00 L659.45,307.88 L660.02,307.75 L660.59,307.63 L661.16,307.50 L661.73,307.38 L662.30,307.25 L662.87,307.12 L663.44,307.00 L664.01,306.87 L664.58,306.75 L665.15,306.62 L665.72,306.50 L666.29,306.37 L666.86,306.25 L667.43,306.12 L668.00,306.00" fill="none" stroke="#d02600" stroke-width="6.5" stroke-linecap="butt" stroke-linejoin="round" clip-path="url(#clipB)" />
<path d="M440.50,117.00 L441.39,117.00 L442.29,117.00 L443.18,117.00 L444.08,117.00 L444.97,117.00 L445.87,117.00 L446.76,117.00 L447.66,117.00 L448.55,117.00 L449.45,117.00 L450.34,117.00 L451.24,117.00 L452.13,117.00 L453.03,117.00 L453.92,117.00 L454.82,117.00 L455.71,117.00 L456.61,117.00 L457.50,117.00 L458.40,117.00 L459.29,117.00 L460.19,117.00 L461.08,117.00 L461.98,117.00 L462.87,117.00 L463.77,117.00 L464.66,117.00 L465.56,117.00 L466.45,117.00 L467.35,117.00 L468.24,117.00 L469.14,117.00 L470.03,117.00 L470.93,117.01 L471.82,117.05 L472.72,117.10 L473.61,117.17 L474.51,117.26 L475.40,117.41 L476.30,117.62 L477.19,117.85 L478.09,118.15 L478.98,118.52 L479.88,118.94 L480.77,119.38 L481.67,119.84 L482.56,120.31 L483.46,120.84 L484.35,121.46 L485.25,122.24 L486.14,123.42 L487.04,124.81 L487.93,126.11 L488.83,127.37 L489.72,128.65 L490.62,129.97 L491.51,131.34 L492.41,132.75 L493.30,134.20 L494.18,134.20 L495.06,134.20 L495.93,134.20 L496.81,134.20 L497.69,134.17 L498.57,134.08 L499.45,133.94 L500.32,133.78 L501.20,133.63 L502.08,133.48 L502.96,133.30 L503.83,133.11 L504.71,132.91 L505.59,132.70 L506.47,132.48 L507.35,132.23 L508.22,131.97 L509.10,131.69 L509.98,131.39 L510.86,131.09 L511.74,130.78 L512.61,130.47 L513.49,130.15 L514.37,129.85 L515.25,129.55 L516.13,129.27 L517.00,129.00 L517.88,128.74 L518.76,128.49 L519.64,128.24 L520.51,128.00 L521.39,127.76 L522.27,127.52 L523.15,127.29 L524.03,127.06 L524.90,126.83 L525.78,126.61 L526.66,126.38 L527.54,126.17 L528.42,125.95 L529.29,125.73 L530.17,125.52 L531.05,125.31 L531.93,125.10 L532.81,124.90 L533.68,124.70 L534.56,124.50 L535.44,124.32 L536.32,124.14 L537.19,123.96 L538.07,123.79 L538.95,123.63 L539.83,123.47 L540.71,123.31 L541.58,123.16 L542.46,123.01 L543.34,122.87 L544.22,122.73 L545.10,122.59 L545.97,122.45 L546.85,122.32 L547.73,122.19 L548.61,122.07 L549.48,121.95 L550.36,121.83 L551.24,121.71 L552.12,121.59 L553.00,121.48 L553.87,121.37 L554.75,121.26 L555.63,121.16 L556.51,121.06 L557.39,120.96 L558.26,120.86 L559.14,120.75 L560.02,120.65 L560.90,120.56 L561.78,120.46 L562.65,120.36 L563.53,120.26 L564.41,120.17 L565.29,120.07 L566.16,119.98 L567.04,119.89 L567.92,119.81 L568.80,119.72 L569.68,119.64 L570.55,119.57 L571.43,119.49 L572.31,119.42 L573.19,119.36 L574.07,119.30 L574.94,119.24 L575.82,119.18 L576.70,119.12 L577.58,119.06 L578.46,119.01 L579.33,118.95 L580.21,118.90 L581.09,118.85 L581.97,118.80 L582.84,118.75 L583.72,118.70 L584.60,118.65 L585.48,118.60 L586.36,118.55 L587.23,118.51 L588.11,118.47 L588.99,118.42 L589.87,118.38 L590.75,118.34 L591.62,118.30 L592.50,118.27 L593.38,118.23 L594.26,118.20 L595.14,118.16 L596.01,118.13 L596.89,118.10 L597.77,118.07 L598.65,118.04 L599.52,118.01 L600.40,117.99 L601.28,117.96 L602.16,117.94 L603.04,117.92 L603.91,117.89 L604.79,117.87 L605.67,117.85 L606.55,117.83 L607.43,117.81 L608.30,117.79 L609.18,117.77 L610.06,117.75 L610.94,117.73 L611.82,117.71 L612.69,117.69 L613.57,117.67 L614.45,117.65 L615.33,117.64 L616.20,117.62 L617.08,117.60 L617.96,117.59 L618.84,117.57 L619.72,117.56 L620.59,117.54 L621.47,117.53 L622.35,117.51 L623.23,117.50 L624.11,117.49 L624.98,117.47 L625.86,117.46 L626.74,117.45 L627.62,117.43 L628.49,117.42 L629.37,117.41 L630.25,117.40 L631.13,117.38 L632.01,117.37 L632.88,117.36 L633.76,117.35 L634.64,117.34 L635.52,117.32 L636.40,117.31 L637.27,117.30 L638.15,117.29 L639.03,117.28 L639.91,117.27 L640.79,117.26 L641.66,117.24 L642.54,117.23 L643.42,117.22 L644.30,117.21 L645.17,117.20 L646.05,117.19 L646.93,117.18 L647.81,117.17 L648.69,117.16 L649.56,117.15 L650.44,117.14 L651.32,117.13 L652.20,117.12 L653.08,117.12 L653.95,117.11 L654.83,117.10 L655.71,117.09 L656.59,117.08 L657.47,117.07 L658.34,117.07 L659.22,117.06 L660.10,117.05 L660.98,117.05 L661.85,117.04 L662.73,117.03 L663.61,117.03 L664.49,117.02 L665.37,117.02 L666.24,117.01 L667.12,117.00 L668.00,117.00" fill="none" stroke="#96240f" stroke-width="3.2" stroke-linecap="butt" stroke-linejoin="miter" stroke-dasharray="11.84 5.12" clip-path="url(#clipB)" />
<path d="M494.50,138.00 L496.25,140.01 L498.01,142.01 L499.76,144.01 L501.51,145.91 L503.26,147.60 L505.02,149.17 L506.77,150.64 L508.52,152.08 L510.27,153.43 L512.03,154.73 L513.78,156.06 L515.53,157.49 L517.28,159.03 L519.04,160.61 L520.79,162.20 L522.54,163.77 L524.29,165.36 L526.05,166.98 L527.80,168.67 L529.55,170.42 L531.30,172.23 L533.06,174.09 L534.81,176.06 L536.56,178.08 L538.31,180.03 L540.07,181.88 L541.82,183.69 L543.57,185.56 L545.32,187.51 L547.08,189.52 L548.83,191.58 L550.58,193.69 L552.33,195.86 L554.09,198.02 L555.84,200.14 L557.59,202.23 L559.34,204.31 L561.10,206.36 L562.85,208.39 L564.60,210.46 L566.35,212.62 L568.11,214.84 L569.86,217.03 L571.61,219.12 L573.36,221.18 L575.12,223.24 L576.87,225.31 L578.62,227.38 L580.37,229.46 L582.13,231.55 L583.88,233.65 L585.63,235.77 L587.38,237.91 L589.14,240.07 L590.89,242.25 L592.64,244.44 L594.39,246.63 L596.15,248.81 L597.90,250.99 L599.65,253.15 L601.40,255.29 L603.16,257.42 L604.91,259.55 L606.66,261.67 L608.41,263.78 L610.17,265.89 L611.92,267.99 L613.67,270.09 L615.42,272.18 L617.18,274.28 L618.93,276.36 L620.68,278.45 L622.43,280.53 L624.19,282.61 L625.94,284.69 L627.69,286.77 L629.44,288.84 L631.20,290.92 L632.95,292.99 L634.70,295.05 L636.45,297.12 L638.21,299.18 L639.96,301.24 L641.71,303.29 L643.46,305.35 L645.22,307.40 L646.97,309.45 L648.72,311.50 L650.47,313.55 L652.23,315.59 L653.98,317.64 L655.73,319.68 L657.48,321.73 L659.24,323.77 L660.99,325.82 L662.74,327.86 L664.49,329.91 L666.25,331.96 L668.00,334.00" fill="none" stroke="#96240f" stroke-width="3.5" stroke-linecap="butt" stroke-linejoin="round" stroke-dasharray="3.3 4.9" clip-path="url(#clipB)" />
<rect x="440.5" y="108.2" width="227.50" height="255.60" fill="none" stroke="#0a0a0a" stroke-width="1.4"/>
<line x1="486.40" y1="363.80" x2="486.40" y2="369.50" stroke="#000" stroke-width="1.4" />
<text transform="translate(486.40,391.80)" font-size="24" text-anchor="middle" font-weight="normal" fill="#000" stroke="#000" stroke-width="0.4" stroke-linejoin="round">0</text>
<line x1="577.20" y1="363.80" x2="577.20" y2="369.50" stroke="#000" stroke-width="1.4" />
<text transform="translate(577.20,391.80)" font-size="24" text-anchor="middle" font-weight="normal" fill="#000" stroke="#000" stroke-width="0.4" stroke-linejoin="round">0.5</text>
<line x1="668.00" y1="363.80" x2="668.00" y2="369.50" stroke="#000" stroke-width="1.4" />
<text transform="translate(668.00,391.80)" font-size="24" text-anchor="middle" font-weight="normal" fill="#000" stroke="#000" stroke-width="0.4" stroke-linejoin="round">1.0</text>
<line x1="434.80" y1="117.00" x2="440.50" y2="117.00" stroke="#000" stroke-width="1.4" />
<text transform="translate(429.70,125.60)" font-size="24" text-anchor="end" font-weight="normal" fill="#000" stroke="#000" stroke-width="0.4" stroke-linejoin="round">0.0</text>
<line x1="434.80" y1="211.70" x2="440.50" y2="211.70" stroke="#000" stroke-width="1.4" />
<text transform="translate(429.70,220.30)" font-size="24" text-anchor="end" font-weight="normal" fill="#000" stroke="#000" stroke-width="0.4" stroke-linejoin="round">−0.1</text>
<line x1="434.80" y1="306.40" x2="440.50" y2="306.40" stroke="#000" stroke-width="1.4" />
<text transform="translate(429.70,315.00)" font-size="24" text-anchor="end" font-weight="normal" fill="#000" stroke="#000" stroke-width="0.4" stroke-linejoin="round">−0.2</text>
<text transform="translate(554.50,420.50)" font-size="24.5" text-anchor="middle" font-weight="normal" fill="#000" stroke="#000" stroke-width="0.4" stroke-linejoin="round">Time delay, ps</text>
<text transform="translate(368.00,235.30) rotate(-90)" font-size="24.5" text-anchor="middle" font-weight="normal" fill="#000" stroke="#000" stroke-width="0.4" stroke-linejoin="round">CD (Norm.)</text>
<clipPath id="clipC"><rect x="96" y="458.4" width="554.8" height="255.39999999999998"/></clipPath>
<path d="M95.45,702.20 L97.22,702.20 L98.98,702.20 L100.74,702.20 L102.50,702.20 L102.50,702.20 L102.67,702.19 L102.85,702.15 L103.03,702.09 L103.20,702.01 L103.38,701.90 L103.55,701.78 L103.73,701.64 L103.91,701.48 L104.08,701.31 L104.26,701.07 L104.43,700.65 L104.61,700.08 L104.79,699.40 L104.96,698.65 L105.14,697.86 L105.31,697.05 L105.49,696.10 L105.66,695.04 L105.84,693.88 L106.02,692.63 L106.19,691.32 L106.37,689.97 L106.54,688.61 L106.72,687.19 L106.90,685.64 L107.07,683.86 L107.25,681.80 L107.42,679.35 L107.60,676.15 L107.78,672.14 L107.95,667.39 L108.13,661.99 L108.30,656.02 L108.48,649.54 L108.65,642.59 L108.83,633.78 L109.01,623.07 L109.18,611.38 L109.36,599.58 L109.53,588.57 L109.71,578.15 L109.89,567.53 L110.06,557.02 L110.24,546.91 L110.41,537.52 L110.59,529.15 L110.77,521.79 L110.94,514.90 L111.12,508.49 L111.29,502.54 L111.47,497.07 L111.64,492.06 L111.82,487.40 L112.00,482.83 L112.17,478.64 L112.35,475.20 L112.52,472.87 L112.70,471.24 L112.88,469.96 L113.05,469.40 L113.23,469.54 L113.40,469.94 L113.58,470.52 L113.76,471.22 L113.93,471.99 L114.11,473.13 L114.28,474.64 L114.46,476.35 L114.64,478.13 L114.81,479.81 L114.99,481.24 L115.16,482.53 L115.34,483.79 L115.51,485.01 L115.69,486.19 L115.87,487.35 L116.04,488.48 L116.22,489.59 L116.39,490.67 L116.57,491.73 L116.75,492.78 L116.92,493.82 L117.10,494.84 L117.27,495.85 L117.45,496.84 L117.63,497.82 L117.80,498.78 L117.98,499.73 L118.15,500.67 L118.33,501.60 L118.50,502.51 L118.68,503.42 L118.86,504.31 L119.03,505.20 L119.21,506.08 L119.38,506.95 L119.56,507.82 L119.74,508.69 L119.91,509.55 L120.09,510.41 L120.26,511.26 L120.44,512.12 L120.62,512.97 L120.79,513.83 L120.97,514.70 L121.14,515.57 L121.32,516.44 L121.50,517.31 L121.67,518.19 L121.85,519.06 L122.02,519.92 L122.20,520.79 L122.37,521.64 L122.55,522.48 L122.73,523.31 L122.90,524.13 L123.08,524.94 L123.25,525.72 L123.43,526.49 L123.61,527.23 L123.78,527.96 L123.96,528.65 L124.13,529.33 L124.31,529.98 L124.49,530.63 L124.66,531.28 L124.84,531.93 L125.01,532.57 L125.19,533.20 L125.36,533.83 L125.54,534.45 L125.72,535.05 L125.89,535.64 L126.07,536.22 L126.24,536.79 L126.42,537.33 L126.60,537.86 L126.77,538.36 L126.95,538.84 L127.12,539.30 L127.30,539.73 L127.48,540.14 L127.65,540.51 L127.83,540.86 L128.00,541.17 L128.18,541.47 L128.35,541.76 L128.53,542.04 L128.71,542.31 L128.88,542.57 L129.06,542.83 L129.23,543.08 L129.41,543.32 L129.59,543.55 L129.76,543.78 L129.94,544.00 L130.11,544.21 L130.29,544.42 L130.47,544.63 L130.64,544.82 L130.82,545.02 L130.99,545.20 L131.17,545.38 L131.35,545.56 L131.52,545.74 L131.70,545.91 L131.87,546.07 L132.05,546.24 L132.22,546.40 L132.40,546.55 L132.58,546.71 L132.75,546.86 L132.93,547.01 L133.10,547.16 L133.28,547.30 L133.46,547.45 L133.63,547.59 L133.81,547.73 L133.98,547.87 L134.16,548.01 L134.34,548.14 L134.51,548.27 L134.69,548.40 L134.86,548.52 L135.04,548.65 L135.21,548.77 L135.39,548.89 L135.57,549.01 L135.74,549.12 L135.92,549.24 L136.09,549.35 L136.27,549.46 L136.45,549.57 L136.62,549.68 L136.80,549.78 L136.97,549.89 L137.15,549.99 L137.33,550.09 L137.50,550.20 L137.68,550.30 L137.85,550.40 L138.03,550.49 L138.21,550.59 L138.38,550.69 L138.56,550.78 L138.73,550.88 L138.91,550.97 L139.08,551.07 L139.26,551.16 L139.44,551.25 L139.61,551.35 L139.79,551.44 L139.96,551.53 L140.14,551.62 L140.32,551.71 L140.49,551.80 L140.67,551.89 L140.84,551.98 L141.02,552.07 L141.20,552.16 L141.37,552.25 L141.55,552.34 L141.72,552.43 L141.90,552.51 L142.07,552.60 L142.25,552.68 L142.43,552.77 L142.60,552.85 L142.78,552.93 L142.95,553.01 L143.13,553.10 L143.31,553.18 L143.48,553.26 L143.66,553.33 L143.83,553.41 L144.01,553.49 L144.19,553.57 L144.36,553.64 L144.54,553.71 L144.71,553.79 L144.89,553.86 L145.06,553.93 L145.24,554.00 L145.42,554.07 L145.59,554.13 L145.77,554.20 L145.94,554.27 L146.12,554.33 L146.30,554.39 L146.47,554.45 L146.65,554.51 L146.82,554.57 L147.00,554.63 L147.18,554.69 L147.35,554.74 L147.53,554.80 L147.70,554.85 L147.88,554.91 L148.06,554.96 L148.23,555.01 L148.41,555.07 L148.58,555.12 L148.76,555.17 L148.93,555.22 L149.11,555.28 L149.29,555.33 L149.46,555.38 L149.64,555.43 L149.81,555.48 L149.99,555.52 L150.17,555.57 L150.34,555.62 L150.52,555.67 L150.69,555.71 L150.87,555.76 L151.05,555.81 L151.22,555.85 L151.40,555.90 L151.57,555.94 L151.75,555.99 L151.92,556.03 L152.10,556.08 L152.28,556.12 L152.45,556.16 L152.63,556.20 L152.80,556.24 L152.98,556.29 L153.16,556.33 L153.33,556.37 L153.51,556.41 L153.68,556.45 L153.86,556.49 L154.04,556.53 L154.21,556.56 L154.39,556.60 L154.56,556.64 L154.74,556.68 L154.92,556.71 L155.09,556.75 L155.27,556.79 L155.44,556.82 L155.62,556.86 L155.79,556.89 L155.97,556.93 L156.15,556.96 L156.32,557.00 L156.50,557.03 L156.67,557.06 L156.85,557.10 L157.03,557.13 L157.20,557.16 L157.38,557.19 L157.55,557.23 L157.73,557.26 L157.91,557.29 L158.08,557.32 L158.26,557.35 L158.43,557.38 L158.61,557.42 L158.78,557.45 L158.96,557.48 L159.14,557.51 L159.31,557.54 L159.49,557.57 L159.66,557.60 L159.84,557.63 L160.02,557.66 L160.19,557.69 L160.37,557.72 L160.54,557.75 L160.72,557.78 L160.90,557.81 L161.07,557.84 L161.25,557.87 L161.42,557.90 L161.60,557.93 L161.78,557.95 L161.95,557.98 L162.13,558.01 L162.30,558.04 L162.48,558.07 L162.65,558.10 L162.83,558.12 L163.01,558.15 L163.18,558.18 L163.36,558.21 L163.53,558.23 L163.71,558.26 L163.89,558.29 L164.06,558.31 L164.24,558.34 L164.41,558.37 L164.59,558.39 L164.77,558.42 L164.94,558.44 L165.12,558.47 L165.29,558.50 L165.47,558.52 L165.64,558.55 L165.82,558.57 L166.00,558.60 L166.17,558.62 L166.35,558.64 L166.52,558.67 L166.70,558.69 L166.88,558.72 L167.05,558.74 L167.23,558.76 L167.40,558.79 L167.58,558.81 L167.76,558.83 L167.93,558.85 L168.11,558.88 L168.28,558.90 L168.46,558.92 L168.63,558.94 L168.81,558.96 L168.99,558.98 L169.16,559.01 L169.34,559.03 L169.51,559.05 L169.69,559.07 L169.87,559.09 L170.04,559.11 L170.22,559.13 L170.39,559.15 L170.57,559.17 L170.75,559.19 L170.92,559.20 L171.10,559.22 L171.27,559.24 L171.45,559.26 L171.63,559.28 L171.80,559.29 L171.98,559.31 L172.15,559.33 L172.33,559.35 L172.50,559.36 L172.68,559.38 L172.86,559.39 L173.03,559.41 L173.21,559.43 L173.38,559.44 L173.56,559.46 L173.74,559.47 L173.91,559.49 L174.09,559.50 L174.26,559.51 L174.44,559.53 L174.62,559.54 L174.79,559.56 L174.97,559.57 L175.14,559.58 L175.32,559.60 L175.49,559.61 L175.67,559.63 L175.85,559.64 L176.02,559.65 L176.20,559.67 L176.37,559.68 L176.55,559.69 L176.73,559.71 L176.90,559.72 L177.08,559.74 L177.25,559.75 L177.43,559.76 L177.61,559.78 L177.78,559.79 L177.96,559.80 L178.13,559.81 L178.31,559.83 L178.49,559.84 L178.66,559.85 L178.84,559.87 L179.01,559.88 L179.19,559.89 L179.36,559.90 L179.54,559.92 L179.72,559.93 L179.89,559.94 L180.07,559.95 L180.24,559.97 L180.42,559.98 L180.60,559.99 L180.77,560.00 L180.95,560.01 L181.12,560.02 L181.30,560.04 L181.48,560.05 L181.65,560.06 L181.83,560.07 L182.00,560.08 L182.18,560.09 L182.35,560.10 L182.53,560.11 L182.71,560.12 L182.88,560.13 L183.06,560.14 L183.23,560.15 L183.41,560.16 L183.59,560.17 L183.76,560.18 L183.94,560.19 L184.11,560.20 L184.29,560.21 L184.47,560.22 L184.64,560.23 L184.82,560.24 L184.99,560.25 L185.17,560.25 L185.34,560.26 L185.52,560.27 L185.70,560.28 L185.87,560.29 L186.05,560.29 L186.22,560.30 L186.40,560.31 L186.58,560.32 L186.75,560.32 L186.93,560.33 L187.10,560.34 L187.28,560.34 L187.46,560.35 L187.63,560.36 L187.81,560.36 L187.98,560.37 L188.16,560.37 L188.34,560.38 L188.51,560.38 L188.69,560.39 L188.86,560.39 L189.04,560.40 L189.21,560.40 L189.39,560.41 L189.57,560.41 L189.74,560.41 L189.92,560.42 L190.09,560.42 L190.27,560.42 L192.58,560.46 L194.90,560.50 L197.21,560.54 L199.53,560.57 L201.84,560.60 L204.16,560.63 L206.47,560.66 L208.78,560.69 L211.10,560.71 L213.41,560.74 L215.73,560.76 L218.04,560.78 L220.35,560.80 L222.67,560.82 L224.98,560.83 L227.30,560.84 L229.61,560.86 L231.93,560.87 L234.24,560.87 L236.55,560.88 L238.87,560.89 L241.18,560.89 L243.50,560.89 L245.81,560.89 L248.13,560.89 L250.44,560.89 L252.75,560.89 L255.07,560.89 L257.38,560.89 L259.70,560.89 L262.01,560.89 L264.33,560.89 L266.64,560.89 L268.95,560.89 L271.27,560.89 L273.58,560.89 L275.90,560.89 L278.21,560.89 L280.52,560.89 L282.84,560.89 L285.15,560.89 L287.47,560.89 L289.78,560.89 L292.10,560.89 L294.41,560.89 L296.72,560.89 L299.04,560.89 L301.35,560.89 L303.67,560.89 L305.98,560.89 L308.30,560.89 L310.61,560.89 L312.92,560.89 L315.24,560.89 L317.55,560.89 L319.87,560.89 L322.18,560.89 L324.49,560.89 L326.81,560.89 L329.12,560.89 L331.44,560.89 L333.75,560.89 L336.07,560.89 L338.38,560.89 L340.69,560.89 L343.01,560.89 L345.32,560.89 L347.64,560.89 L349.95,560.89 L352.27,560.89 L354.58,560.89 L356.89,560.89 L359.21,560.89 L361.52,560.89 L363.84,560.89 L366.15,560.89 L368.47,560.89 L370.78,560.89 L373.09,560.89 L375.41,560.89 L377.72,560.89 L380.04,560.89 L382.35,560.89 L384.66,560.89 L386.98,560.89 L389.29,560.89 L391.61,560.89 L393.92,560.89 L396.24,560.89 L398.55,560.89 L400.86,560.89 L403.18,560.89 L405.49,560.89 L407.81,560.89 L410.12,560.89 L412.44,560.89 L414.75,560.89 L417.06,560.89 L419.38,560.89 L421.69,560.89 L424.01,560.89 L426.32,560.89 L428.63,560.89 L430.95,560.89 L433.26,560.89 L435.58,560.89 L437.89,560.89 L440.21,560.89 L442.52,560.89 L444.83,560.89 L447.15,560.89 L449.46,560.89 L451.78,560.89 L454.09,560.89 L456.41,560.89 L458.72,560.89 L461.03,560.89 L463.35,560.89 L465.66,560.89 L467.98,560.89 L470.29,560.89 L472.60,560.89 L474.92,560.89 L477.23,560.89 L479.55,560.89 L481.86,560.89 L484.18,560.89 L486.49,560.89 L488.80,560.89 L491.12,560.89 L493.43,560.89 L495.75,560.89 L498.06,560.89 L500.38,560.89 L502.69,560.89 L505.00,560.89 L507.32,560.89 L509.63,560.89 L511.95,560.89 L514.26,560.89 L516.58,560.89 L518.89,560.89 L521.20,560.89 L523.52,560.89 L525.83,560.89 L528.15,560.89 L530.46,560.89 L532.77,560.89 L535.09,560.89 L537.40,560.89 L539.72,560.89 L542.03,560.89 L544.35,560.89 L546.66,560.89 L548.97,560.89 L551.29,560.89 L553.60,560.89 L555.92,560.89 L558.23,560.89 L560.55,560.89 L562.86,560.89 L565.17,560.89 L567.49,560.89 L569.80,560.89 L572.12,560.89 L574.43,560.89 L576.74,560.89 L579.06,560.89 L581.37,560.89 L583.69,560.89 L586.00,560.89 L588.32,560.89 L590.63,560.89 L592.94,560.89 L595.26,560.89 L597.57,560.89 L599.89,560.89 L602.20,560.89 L604.52,560.89 L606.83,560.89 L609.14,560.89 L611.46,560.89 L613.77,560.89 L616.09,560.89 L618.40,560.89 L620.72,560.89 L623.03,560.89 L625.34,560.89 L627.66,560.89 L629.97,560.89 L632.29,560.89 L634.60,560.89 L636.91,560.89 L639.23,560.89 L641.54,560.89 L643.86,560.89 L646.17,560.89 L648.49,560.89 L650.80,560.89" fill="none" stroke="#101c5c" stroke-width="6.1" stroke-linecap="butt" stroke-linejoin="round" clip-path="url(#clipC)" />
<path d="M95.45,702.20 L97.22,702.20 L98.98,702.20 L100.74,702.20 L102.50,702.20 L102.50,702.20 L102.67,702.19 L102.85,702.15 L103.03,702.09 L103.20,702.01 L103.38,701.90 L103.55,701.78 L103.73,701.64 L103.91,701.48 L104.08,701.31 L104.26,701.07 L104.43,700.65 L104.61,700.08 L104.79,699.40 L104.96,698.65 L105.14,697.86 L105.31,697.05 L105.49,696.10 L105.66,695.04 L105.84,693.88 L106.02,692.63 L106.19,691.32 L106.37,689.97 L106.54,688.61 L106.72,687.19 L106.90,685.64 L107.07,683.86 L107.25,681.80 L107.42,679.35 L107.60,676.15 L107.78,672.14 L107.95,667.39 L108.13,661.99 L108.30,656.02 L108.48,649.54 L108.65,642.59 L108.83,633.78 L109.01,623.07 L109.18,611.38 L109.36,599.58 L109.53,588.57 L109.71,578.15 L109.89,567.53 L110.06,557.02 L110.24,546.91 L110.41,537.52 L110.59,529.15 L110.77,521.79 L110.94,514.90 L111.12,508.49 L111.29,502.54 L111.47,497.07 L111.64,492.06 L111.82,487.40 L112.00,482.83 L112.17,478.64 L112.35,475.20 L112.52,472.87 L112.70,471.24 L112.88,469.96 L113.05,469.40 L113.23,469.54 L113.40,469.94 L113.58,470.52 L113.76,471.22 L113.93,471.99 L114.11,473.13 L114.28,474.64 L114.46,476.35 L114.64,478.13 L114.81,479.81 L114.99,481.24 L115.16,482.53 L115.34,483.79 L115.51,485.01 L115.69,486.19 L115.87,487.35 L116.04,488.48 L116.22,489.59 L116.39,490.67 L116.57,491.73 L116.75,492.78 L116.92,493.82 L117.10,494.84 L117.27,495.85 L117.45,496.84 L117.63,497.82 L117.80,498.78 L117.98,499.73 L118.15,500.67 L118.33,501.60 L118.50,502.51 L118.68,503.42 L118.86,504.31 L119.03,505.20 L119.21,506.08 L119.38,506.95 L119.56,507.82 L119.74,508.69 L119.91,509.55 L120.09,510.41 L120.26,511.26 L120.44,512.12 L120.62,512.97 L120.79,513.83 L120.97,514.70 L121.14,515.57 L121.32,516.44 L121.50,517.31 L121.67,518.19 L121.85,519.06 L122.02,519.92 L122.20,520.79 L122.37,521.64 L122.55,522.48 L122.73,523.31 L122.90,524.13 L123.08,524.94 L123.25,525.72 L123.43,526.49 L123.61,527.23 L123.78,527.96 L123.96,528.65 L124.13,529.33 L124.31,529.98 L124.49,530.63 L124.66,531.28 L124.84,531.93 L125.01,532.57 L125.19,533.20 L125.36,533.83 L125.54,534.45 L125.72,535.05 L125.89,535.64 L126.07,536.22 L126.24,536.79 L126.42,537.33 L126.60,537.86 L126.77,538.36 L126.95,538.84 L127.12,539.30 L127.30,539.73 L127.48,540.14 L127.65,540.51 L127.83,540.86 L128.00,541.17 L128.18,541.47 L128.35,541.76 L128.53,542.04 L128.71,542.31 L128.88,542.57 L129.06,542.83 L129.23,543.08 L129.41,543.32 L129.59,543.55 L129.76,543.78 L129.94,544.00 L130.11,544.21 L130.29,544.42 L130.47,544.63 L130.64,544.82 L130.82,545.02 L130.99,545.20 L131.17,545.38 L131.35,545.56 L131.52,545.74 L131.70,545.91 L131.87,546.07 L132.05,546.24 L132.22,546.40 L132.40,546.55 L132.58,546.71 L132.75,546.86 L132.93,547.01 L133.10,547.16 L133.28,547.30 L133.46,547.45 L133.63,547.59 L133.81,547.73 L133.98,547.87 L134.16,548.01 L134.34,548.14 L134.51,548.27 L134.69,548.40 L134.86,548.52 L135.04,548.65 L135.21,548.77 L135.39,548.89 L135.57,549.01 L135.74,549.12 L135.92,549.24 L136.09,549.35 L136.27,549.46 L136.45,549.57 L136.62,549.68 L136.80,549.78 L136.97,549.89 L137.15,549.99 L137.33,550.09 L137.50,550.20 L137.68,550.30 L137.85,550.40 L138.03,550.49 L138.21,550.59 L138.38,550.69 L138.56,550.78 L138.73,550.88 L138.91,550.97 L139.08,551.07 L139.26,551.16 L139.44,551.25 L139.61,551.35 L139.79,551.44 L139.96,551.53 L140.14,551.62 L140.32,551.71 L140.49,551.80 L140.67,551.89 L140.84,551.98 L141.02,552.07 L141.20,552.16 L141.37,552.25 L141.55,552.34 L141.72,552.43 L141.90,552.51 L142.07,552.60 L142.25,552.68 L142.43,552.77 L142.60,552.85 L142.78,552.93 L142.95,553.01 L143.13,553.10 L143.31,553.18 L143.48,553.26 L143.66,553.33 L143.83,553.41 L144.01,553.49 L144.19,553.57 L144.36,553.64 L144.54,553.71 L144.71,553.79 L144.89,553.86 L145.06,553.93 L145.24,554.00 L145.42,554.07 L145.59,554.13 L145.77,554.20 L145.94,554.27 L146.12,554.33 L146.30,554.39 L146.47,554.45 L146.65,554.51 L146.82,554.57 L147.00,554.63 L147.18,554.69 L147.35,554.74 L147.53,554.80 L147.70,554.85 L147.88,554.91 L148.06,554.96 L148.23,555.01 L148.41,555.07 L148.58,555.12 L148.76,555.17 L148.93,555.22 L149.11,555.28 L149.29,555.33 L149.46,555.38 L149.64,555.43 L149.81,555.48 L149.99,555.52 L150.17,555.57 L150.34,555.62 L150.52,555.67 L150.69,555.71 L150.87,555.76 L151.05,555.81 L151.22,555.85 L151.40,555.90 L151.57,555.94 L151.75,555.99 L151.92,556.03 L152.10,556.08 L152.28,556.12 L152.45,556.16 L152.63,556.20 L152.80,556.24 L152.98,556.29 L153.16,556.33 L153.33,556.37 L153.51,556.41 L153.68,556.45 L153.86,556.49 L154.04,556.53 L154.21,556.56 L154.39,556.60 L154.56,556.64 L154.74,556.68 L154.92,556.71 L155.09,556.75 L155.27,556.79 L155.44,556.82 L155.62,556.86 L155.79,556.89 L155.97,556.93 L156.15,556.96 L156.32,557.00 L156.50,557.03 L156.67,557.06 L156.85,557.10 L157.03,557.13 L157.20,557.16 L157.38,557.19 L157.55,557.23 L157.73,557.26 L157.91,557.29 L158.08,557.32 L158.26,557.35 L158.43,557.38 L158.61,557.42 L158.78,557.45 L158.96,557.48 L159.14,557.51 L159.31,557.54 L159.49,557.57 L159.66,557.60 L159.84,557.63 L160.02,557.66 L160.19,557.69 L160.37,557.72 L160.54,557.75 L160.72,557.78 L160.90,557.81 L161.07,557.84 L161.25,557.87 L161.42,557.90 L161.60,557.93 L161.78,557.95 L161.95,557.98 L162.13,558.01 L162.30,558.04 L162.48,558.07 L162.65,558.10 L162.83,558.12 L163.01,558.15 L163.18,558.18 L163.36,558.21 L163.53,558.23 L163.71,558.26 L163.89,558.29 L164.06,558.31 L164.24,558.34 L164.41,558.37 L164.59,558.39 L164.77,558.42 L164.94,558.44 L165.12,558.47 L165.29,558.50 L165.47,558.52 L165.64,558.55 L165.82,558.57 L166.00,558.60 L166.17,558.62 L166.35,558.64 L166.52,558.67 L166.70,558.69 L166.88,558.72 L167.05,558.74 L167.23,558.76 L167.40,558.79 L167.58,558.81 L167.76,558.83 L167.93,558.85 L168.11,558.88 L168.28,558.90 L168.46,558.92 L168.63,558.94 L168.81,558.96 L168.99,558.98 L169.16,559.01 L169.34,559.03 L169.51,559.05 L169.69,559.07 L169.87,559.09 L170.04,559.11 L170.22,559.13 L170.39,559.15 L170.57,559.17 L170.75,559.19 L170.92,559.20 L171.10,559.22 L171.27,559.24 L171.45,559.26 L171.63,559.28 L171.80,559.29 L171.98,559.31 L172.15,559.33 L172.33,559.35 L172.50,559.36 L172.68,559.38 L172.86,559.39 L173.03,559.41 L173.21,559.43 L173.38,559.44 L173.56,559.46 L173.74,559.47 L173.91,559.49 L174.09,559.50 L174.26,559.51 L174.44,559.53 L174.62,559.54 L174.79,559.56 L174.97,559.57 L175.14,559.58 L175.32,559.60 L175.49,559.61 L175.67,559.63 L175.85,559.64 L176.02,559.65 L176.20,559.67 L176.37,559.68 L176.55,559.69 L176.73,559.71 L176.90,559.72 L177.08,559.74 L177.25,559.75 L177.43,559.76 L177.61,559.78 L177.78,559.79 L177.96,559.80 L178.13,559.81 L178.31,559.83 L178.49,559.84 L178.66,559.85 L178.84,559.87 L179.01,559.88 L179.19,559.89 L179.36,559.90 L179.54,559.92 L179.72,559.93 L179.89,559.94 L180.07,559.95 L180.24,559.97 L180.42,559.98 L180.60,559.99 L180.77,560.00 L180.95,560.01 L181.12,560.02 L181.30,560.04 L181.48,560.05 L181.65,560.06 L181.83,560.07 L182.00,560.08 L182.18,560.09 L182.35,560.10 L182.53,560.11 L182.71,560.12 L182.88,560.13 L183.06,560.14 L183.23,560.15 L183.41,560.16 L183.59,560.17 L183.76,560.18 L183.94,560.19 L184.11,560.20 L184.29,560.21 L184.47,560.22 L184.64,560.23 L184.82,560.24 L184.99,560.25 L185.17,560.25 L185.34,560.26 L185.52,560.27 L185.70,560.28 L185.87,560.29 L186.05,560.29 L186.22,560.30 L186.40,560.31 L186.58,560.32 L186.75,560.32 L186.93,560.33 L187.10,560.34 L187.28,560.34 L187.46,560.35 L187.63,560.36 L187.81,560.36 L187.98,560.37 L188.16,560.37 L188.34,560.38 L188.51,560.38 L188.69,560.39 L188.86,560.39 L189.04,560.40 L189.21,560.40 L189.39,560.41 L189.57,560.41 L189.74,560.41 L189.92,560.42 L190.09,560.42 L190.27,560.42 L192.58,560.46 L194.90,560.50 L197.21,560.54 L199.53,560.57 L201.84,560.60 L204.16,560.63 L206.47,560.66 L208.78,560.69 L211.10,560.71 L213.41,560.74 L215.73,560.76 L218.04,560.78 L220.35,560.80 L222.67,560.82 L224.98,560.83 L227.30,560.84 L229.61,560.86 L231.93,560.87 L234.24,560.87 L236.55,560.88 L238.87,560.89 L241.18,560.89 L243.50,560.89 L245.81,560.89 L248.13,560.89 L250.44,560.89 L252.75,560.89 L255.07,560.89 L257.38,560.89 L259.70,560.89 L262.01,560.89 L264.33,560.89 L266.64,560.89 L268.95,560.89 L271.27,560.89 L273.58,560.89 L275.90,560.89 L278.21,560.89 L280.52,560.89 L282.84,560.89 L285.15,560.89 L287.47,560.89 L289.78,560.89 L292.10,560.89 L294.41,560.89 L296.72,560.89 L299.04,560.89 L301.35,560.89 L303.67,560.89 L305.98,560.89 L308.30,560.89 L310.61,560.89 L312.92,560.89 L315.24,560.89 L317.55,560.89 L319.87,560.89 L322.18,560.89 L324.49,560.89 L326.81,560.89 L329.12,560.89 L331.44,560.89 L333.75,560.89 L336.07,560.89 L338.38,560.89 L340.69,560.89 L343.01,560.89 L345.32,560.89 L347.64,560.89 L349.95,560.89 L352.27,560.89 L354.58,560.89 L356.89,560.89 L359.21,560.89 L361.52,560.89 L363.84,560.89 L366.15,560.89 L368.47,560.89 L370.78,560.89 L373.09,560.89 L375.41,560.89 L377.72,560.89 L380.04,560.89 L382.35,560.89 L384.66,560.89 L386.98,560.89 L389.29,560.89 L391.61,560.89 L393.92,560.89 L396.24,560.89 L398.55,560.89 L400.86,560.89 L403.18,560.89 L405.49,560.89 L407.81,560.89 L410.12,560.89 L412.44,560.89 L414.75,560.89 L417.06,560.89 L419.38,560.89 L421.69,560.89 L424.01,560.89 L426.32,560.89 L428.63,560.89 L430.95,560.89 L433.26,560.89 L435.58,560.89 L437.89,560.89 L440.21,560.89 L442.52,560.89 L444.83,560.89 L447.15,560.89 L449.46,560.89 L451.78,560.89 L454.09,560.89 L456.41,560.89 L458.72,560.89 L461.03,560.89 L463.35,560.89 L465.66,560.89 L467.98,560.89 L470.29,560.89 L472.60,560.89 L474.92,560.89 L477.23,560.89 L479.55,560.89 L481.86,560.89 L484.18,560.89 L486.49,560.89 L488.80,560.89 L491.12,560.89 L493.43,560.89 L495.75,560.89 L498.06,560.89 L500.38,560.89 L502.69,560.89 L505.00,560.89 L507.32,560.89 L509.63,560.89 L511.95,560.89 L514.26,560.89 L516.58,560.89 L518.89,560.89 L521.20,560.89 L523.52,560.89 L525.83,560.89 L528.15,560.89 L530.46,560.89 L532.77,560.89 L535.09,560.89 L537.40,560.89 L539.72,560.89 L542.03,560.89 L544.35,560.89 L546.66,560.89 L548.97,560.89 L551.29,560.89 L553.60,560.89 L555.92,560.89 L558.23,560.89 L560.55,560.89 L562.86,560.89 L565.17,560.89 L567.49,560.89 L569.80,560.89 L572.12,560.89 L574.43,560.89 L576.74,560.89 L579.06,560.89 L581.37,560.89 L583.69,560.89 L586.00,560.89 L588.32,560.89 L590.63,560.89 L592.94,560.89 L595.26,560.89 L597.57,560.89 L599.89,560.89 L602.20,560.89 L604.52,560.89 L606.83,560.89 L609.14,560.89 L611.46,560.89 L613.77,560.89 L616.09,560.89 L618.40,560.89 L620.72,560.89 L623.03,560.89 L625.34,560.89 L627.66,560.89 L629.97,560.89 L632.29,560.89 L634.60,560.89 L636.91,560.89 L639.23,560.89 L641.54,560.89 L643.86,560.89 L646.17,560.89 L648.49,560.89 L650.80,560.89" fill="none" stroke="#72779a" stroke-width="6.1" stroke-linecap="butt" stroke-linejoin="round" stroke-dasharray="18.5 18.5" clip-path="url(#clipC)" />
<path d="M95.45,702.20 L97.22,702.20 L98.98,702.20 L100.74,702.20 L102.50,702.20 L102.50,702.20 L102.67,702.19 L102.85,702.15 L103.03,702.09 L103.20,702.01 L103.38,701.90 L103.55,701.78 L103.73,701.64 L103.91,701.48 L104.08,701.31 L104.26,701.07 L104.43,700.65 L104.61,700.08 L104.79,699.40 L104.96,698.65 L105.14,697.86 L105.31,697.05 L105.49,696.10 L105.66,695.04 L105.84,693.88 L106.02,692.63 L106.19,691.32 L106.37,689.97 L106.54,688.61 L106.72,687.19 L106.90,685.64 L107.07,683.86 L107.25,681.80 L107.42,679.35 L107.60,676.15 L107.78,672.14 L107.95,667.39 L108.13,661.99 L108.30,656.02 L108.48,649.54 L108.65,642.59 L108.83,633.78 L109.01,623.07 L109.18,611.38 L109.36,599.58 L109.53,588.57 L109.71,578.15 L109.89,567.53 L110.06,557.02 L110.24,546.91 L110.41,537.52 L110.59,529.15 L110.77,521.79 L110.94,514.90 L111.12,508.49 L111.29,502.54 L111.47,497.07 L111.64,492.06 L111.82,487.40 L112.00,482.83 L112.17,478.64 L112.35,475.20 L112.52,472.87 L112.70,471.24 L112.88,469.96 L113.05,469.40 L113.23,469.83 L113.40,471.08 L113.58,472.88 L113.76,474.95 L113.93,477.07 L114.11,479.74 L114.28,483.00 L114.46,486.64 L114.64,490.47 L114.81,494.28 L114.99,497.88 L115.16,501.49 L115.34,505.27 L115.51,509.16 L115.69,513.11 L115.87,517.07 L116.04,520.97 L116.22,524.77 L116.39,528.41 L116.57,531.84 L116.75,535.00 L116.92,537.83 L117.10,540.33 L117.27,542.67 L117.45,544.91 L117.63,547.05 L117.80,549.09 L117.98,551.03 L118.15,552.89 L118.33,554.65 L118.50,556.34 L118.68,557.94 L118.86,559.46 L119.03,560.91 L119.21,562.28 L119.38,563.60 L119.56,564.89 L119.74,566.14 L119.91,567.35 L120.09,568.51 L120.26,569.62 L120.44,570.68 L120.62,571.68 L120.79,572.62 L120.97,573.48 L121.14,574.28 L121.32,575.00 L121.50,575.64 L121.67,576.26 L121.85,576.86 L122.02,577.45 L122.20,578.02 L122.37,578.58 L122.55,579.11 L122.73,579.63 L122.90,580.12 L123.08,580.60 L123.25,581.05 L123.43,581.48 L123.61,581.88 L123.78,582.27 L123.96,582.62 L124.13,582.96 L124.31,583.26 L124.49,583.54 L124.66,583.79 L124.84,584.01 L125.01,584.20 L125.19,584.38 L125.36,584.55 L125.54,584.72 L125.72,584.88 L125.89,585.04 L126.07,585.19 L126.24,585.34 L126.42,585.48 L126.60,585.62 L126.77,585.75 L126.95,585.88 L127.12,586.01 L127.30,586.13 L127.48,586.24 L127.65,586.35 L127.83,586.46 L128.00,586.56 L128.18,586.66 L128.35,586.76 L128.53,586.85 L128.71,586.93 L128.88,587.02 L129.06,587.10 L129.23,587.17 L129.41,587.24 L129.59,587.31 L129.76,587.38 L129.94,587.44 L130.11,587.50 L130.29,587.55 L130.47,587.61 L130.64,587.65 L130.82,587.70 L130.99,587.75 L131.17,587.79 L131.35,587.84 L131.52,587.88 L131.70,587.92 L131.87,587.97 L132.05,588.01 L132.22,588.05 L132.40,588.09 L132.58,588.12 L132.75,588.16 L132.93,588.20 L133.10,588.23 L133.28,588.26 L133.46,588.30 L133.63,588.33 L133.81,588.36 L133.98,588.38 L134.16,588.41 L134.34,588.44 L134.51,588.46 L134.69,588.48 L134.86,588.50 L135.04,588.52 L135.21,588.54 L135.39,588.55 L135.57,588.57 L135.74,588.58 L135.92,588.59 L136.09,588.59 L136.27,588.60 L136.45,588.61 L136.62,588.61 L136.80,588.62 L136.97,588.63 L137.15,588.63 L137.33,588.64 L137.50,588.64 L137.68,588.65 L137.85,588.66 L138.03,588.66 L138.21,588.67 L138.38,588.67 L138.56,588.68 L138.73,588.69 L138.91,588.69 L139.08,588.70 L139.26,588.70 L139.44,588.71 L139.61,588.71 L139.79,588.72 L139.96,588.72 L140.14,588.73 L140.32,588.73 L140.49,588.74 L140.67,588.74 L140.84,588.75 L141.02,588.75 L141.20,588.76 L141.37,588.76 L141.55,588.77 L141.72,588.77 L141.90,588.77 L142.07,588.78 L142.25,588.78 L142.43,588.79 L142.60,588.79 L142.78,588.79 L142.95,588.80 L143.13,588.80 L143.31,588.81 L143.48,588.81 L143.66,588.81 L143.83,588.82 L144.01,588.82 L144.19,588.83 L144.36,588.83 L144.54,588.83 L144.71,588.84 L144.89,588.84 L145.06,588.84 L145.24,588.85 L145.42,588.85 L145.59,588.85 L145.77,588.86 L145.94,588.86 L146.12,588.86 L146.30,588.86 L146.47,588.87 L146.65,588.87 L146.82,588.87 L147.00,588.88 L147.18,588.88 L147.35,588.88 L147.53,588.89 L147.70,588.89 L147.88,588.89 L148.06,588.89 L148.23,588.90 L148.41,588.90 L148.58,588.90 L148.76,588.90 L148.93,588.91 L149.11,588.91 L149.29,588.91 L149.46,588.91 L149.64,588.92 L149.81,588.92 L149.99,588.92 L150.17,588.92 L150.34,588.92 L150.52,588.93 L150.69,588.93 L150.87,588.93 L151.05,588.93 L151.22,588.94 L151.40,588.94 L151.57,588.94 L151.75,588.94 L151.92,588.94 L152.10,588.95 L152.28,588.95 L152.45,588.95 L152.63,588.95 L152.80,588.95 L152.98,588.95 L153.16,588.96 L153.33,588.96 L153.51,588.96 L153.68,588.96 L153.86,588.96 L154.04,588.97 L154.21,588.97 L154.39,588.97 L154.56,588.97 L154.74,588.97 L154.92,588.97 L155.09,588.98 L155.27,588.98 L155.44,588.98 L155.62,588.98 L155.79,588.98 L155.97,588.99 L156.15,588.99 L156.32,588.99 L156.50,588.99 L156.67,588.99 L156.85,588.99 L157.03,589.00 L157.20,589.00 L157.38,589.00 L157.55,589.00 L157.73,589.00 L157.91,589.00 L158.08,589.01 L158.26,589.01 L158.43,589.01 L158.61,589.01 L158.78,589.01 L158.96,589.01 L159.14,589.02 L159.31,589.02 L159.49,589.02 L159.66,589.02 L159.84,589.02 L160.02,589.02 L160.19,589.03 L160.37,589.03 L160.54,589.03 L160.72,589.03 L160.90,589.03 L161.07,589.04 L161.25,589.04 L161.42,589.04 L161.60,589.04 L161.78,589.04 L161.95,589.05 L162.13,589.05 L162.30,589.05 L162.48,589.05 L162.65,589.05 L162.83,589.06 L163.01,589.06 L163.18,589.06 L163.36,589.06 L163.53,589.06 L163.71,589.07 L163.89,589.07 L164.06,589.07 L164.24,589.07 L164.41,589.07 L164.59,589.08 L164.77,589.08 L164.94,589.08 L165.12,589.08 L165.29,589.08 L165.47,589.09 L165.64,589.09 L165.82,589.09 L166.00,589.09 L166.17,589.09 L166.35,589.10 L166.52,589.10 L166.70,589.10 L166.88,589.10 L167.05,589.11 L167.23,589.11 L167.40,589.11 L167.58,589.11 L167.76,589.11 L167.93,589.12 L168.11,589.12 L168.28,589.12 L168.46,589.12 L168.63,589.12 L168.81,589.13 L168.99,589.13 L169.16,589.13 L169.34,589.13 L169.51,589.13 L169.69,589.14 L169.87,589.14 L170.04,589.14 L170.22,589.14 L170.39,589.15 L170.57,589.15 L170.75,589.15 L170.92,589.15 L171.10,589.15 L171.27,589.16 L171.45,589.16 L171.63,589.16 L171.80,589.16 L171.98,589.16 L172.15,589.17 L172.33,589.17 L172.50,589.17 L172.68,589.17 L172.86,589.17 L173.03,589.18 L173.21,589.18 L173.38,589.18 L173.56,589.18 L173.74,589.19 L173.91,589.19 L174.09,589.19 L174.26,589.19 L174.44,589.19 L174.62,589.20 L174.79,589.20 L174.97,589.20 L175.14,589.20 L175.32,589.20 L175.49,589.21 L175.67,589.21 L175.85,589.21 L176.02,589.21 L176.20,589.21 L176.37,589.22 L176.55,589.22 L176.73,589.22 L176.90,589.22 L177.08,589.22 L177.25,589.23 L177.43,589.23 L177.61,589.23 L177.78,589.23 L177.96,589.24 L178.13,589.24 L178.31,589.24 L178.49,589.24 L178.66,589.24 L178.84,589.25 L179.01,589.25 L179.19,589.25 L179.36,589.25 L179.54,589.25 L179.72,589.26 L179.89,589.26 L180.07,589.26 L180.24,589.26 L180.42,589.26 L180.60,589.27 L180.77,589.27 L180.95,589.27 L181.12,589.27 L181.30,589.27 L181.48,589.28 L181.65,589.28 L181.83,589.28 L182.00,589.28 L182.18,589.29 L182.35,589.29 L182.53,589.29 L182.71,589.29 L182.88,589.29 L183.06,589.30 L183.23,589.30 L183.41,589.30 L183.59,589.30 L183.76,589.30 L183.94,589.31 L184.11,589.31 L184.29,589.31 L184.47,589.31 L184.64,589.31 L184.82,589.32 L184.99,589.32 L185.17,589.32 L185.34,589.32 L185.52,589.32 L185.70,589.33 L185.87,589.33 L186.05,589.33 L186.22,589.33 L186.40,589.34 L186.58,589.34 L186.75,589.34 L186.93,589.34 L187.10,589.34 L187.28,589.35 L187.46,589.35 L187.63,589.35 L187.81,589.35 L187.98,589.35 L188.16,589.36 L188.34,589.36 L188.51,589.36 L188.69,589.36 L188.86,589.36 L189.04,589.37 L189.21,589.37 L189.39,589.37 L189.57,589.37 L189.74,589.37 L189.92,589.38 L190.09,589.38 L190.27,589.38 L192.58,589.41 L194.90,589.44 L197.21,589.46 L199.53,589.49 L201.84,589.52 L204.16,589.54 L206.47,589.57 L208.78,589.60 L211.10,589.63 L213.41,589.65 L215.73,589.68 L218.04,589.71 L220.35,589.73 L222.67,589.76 L224.98,589.79 L227.30,589.81 L229.61,589.84 L231.93,589.87 L234.24,589.89 L236.55,589.92 L238.87,589.95 L241.18,589.97 L243.50,590.00 L245.81,590.02 L248.13,590.05 L250.44,590.08 L252.75,590.10 L255.07,590.13 L257.38,590.16 L259.70,590.18 L262.01,590.21 L264.33,590.23 L266.64,590.26 L268.95,590.28 L271.27,590.31 L273.58,590.33 L275.90,590.36 L278.21,590.39 L280.52,590.41 L282.84,590.44 L285.15,590.46 L287.47,590.49 L289.78,590.51 L292.10,590.54 L294.41,590.56 L296.72,590.59 L299.04,590.61 L301.35,590.63 L303.67,590.66 L305.98,590.68 L308.30,590.71 L310.61,590.73 L312.92,590.76 L315.24,590.78 L317.55,590.80 L319.87,590.83 L322.18,590.85 L324.49,590.88 L326.81,590.90 L329.12,590.92 L331.44,590.95 L333.75,590.97 L336.07,590.99 L338.38,591.02 L340.69,591.04 L343.01,591.06 L345.32,591.08 L347.64,591.11 L349.95,591.13 L352.27,591.15 L354.58,591.17 L356.89,591.20 L359.21,591.22 L361.52,591.24 L363.84,591.26 L366.15,591.28 L368.47,591.31 L370.78,591.33 L373.09,591.35 L375.41,591.37 L377.72,591.39 L380.04,591.41 L382.35,591.43 L384.66,591.45 L386.98,591.48 L389.29,591.50 L391.61,591.52 L393.92,591.54 L396.24,591.56 L398.55,591.58 L400.86,591.60 L403.18,591.62 L405.49,591.64 L407.81,591.66 L410.12,591.68 L412.44,591.70 L414.75,591.71 L417.06,591.73 L419.38,591.75 L421.69,591.77 L424.01,591.79 L426.32,591.81 L428.63,591.83 L430.95,591.85 L433.26,591.86 L435.58,591.88 L437.89,591.90 L440.21,591.92 L442.52,591.93 L444.83,591.95 L447.15,591.97 L449.46,591.99 L451.78,592.00 L454.09,592.02 L456.41,592.04 L458.72,592.05 L461.03,592.07 L463.35,592.09 L465.66,592.10 L467.98,592.12 L470.29,592.13 L472.60,592.15 L474.92,592.16 L477.23,592.18 L479.55,592.19 L481.86,592.21 L484.18,592.22 L486.49,592.24 L488.80,592.25 L491.12,592.27 L493.43,592.28 L495.75,592.30 L498.06,592.31 L500.38,592.32 L502.69,592.34 L505.00,592.35 L507.32,592.36 L509.63,592.38 L511.95,592.39 L514.26,592.40 L516.58,592.41 L518.89,592.42 L521.20,592.44 L523.52,592.45 L525.83,592.46 L528.15,592.47 L530.46,592.48 L532.77,592.49 L535.09,592.50 L537.40,592.52 L539.72,592.53 L542.03,592.54 L544.35,592.55 L546.66,592.56 L548.97,592.57 L551.29,592.58 L553.60,592.58 L555.92,592.59 L558.23,592.60 L560.55,592.61 L562.86,592.62 L565.17,592.63 L567.49,592.64 L569.80,592.64 L572.12,592.65 L574.43,592.66 L576.74,592.67 L579.06,592.67 L581.37,592.68 L583.69,592.69 L586.00,592.69 L588.32,592.70 L590.63,592.71 L592.94,592.71 L595.26,592.72 L597.57,592.72 L599.89,592.73 L602.20,592.73 L604.52,592.74 L606.83,592.74 L609.14,592.75 L611.46,592.75 L613.77,592.75 L616.09,592.76 L618.40,592.76 L620.72,592.76 L623.03,592.77 L625.34,592.77 L627.66,592.77 L629.97,592.77 L632.29,592.78 L634.60,592.78 L636.91,592.78 L639.23,592.78 L641.54,592.78 L643.86,592.78 L646.17,592.78 L648.49,592.78 L650.80,592.78" fill="none" stroke="#ea5534" stroke-width="6.1" stroke-linecap="butt" stroke-linejoin="round" stroke-dasharray="12.4 6.1" clip-path="url(#clipC)" />
<path d="M95.45,702.20 L97.22,702.20 L98.98,702.20 L100.74,702.20 L102.50,702.20 L102.50,702.20 L102.67,702.19 L102.85,702.15 L103.03,702.09 L103.20,702.01 L103.38,701.90 L103.55,701.78 L103.73,701.64 L103.91,701.48 L104.08,701.31 L104.26,701.07 L104.43,700.65 L104.61,700.08 L104.79,699.40 L104.96,698.65 L105.14,697.86 L105.31,697.05 L105.49,696.10 L105.66,695.04 L105.84,693.88 L106.02,692.63 L106.19,691.32 L106.37,689.97 L106.54,688.61 L106.72,687.19 L106.90,685.64 L107.07,683.86 L107.25,681.80 L107.42,679.35 L107.60,676.15 L107.78,672.14 L107.95,667.39 L108.13,661.99 L108.30,656.02 L108.48,649.54 L108.65,642.59 L108.83,633.78 L109.01,623.07 L109.18,611.38 L109.36,599.58 L109.53,588.57 L109.71,578.15 L109.89,567.53 L110.06,557.02 L110.24,546.91 L110.41,537.52 L110.59,529.15 L110.77,521.79 L110.94,514.90 L111.12,508.49 L111.29,502.54 L111.47,497.07 L111.64,492.06 L111.82,487.40 L112.00,482.83 L112.17,478.64 L112.35,475.20 L112.52,472.87 L112.70,471.24 L112.88,469.96 L113.05,469.40 L113.23,469.83 L113.40,471.08 L113.58,472.88 L113.76,474.95 L113.93,477.07 L114.11,479.72 L114.28,482.94 L114.46,486.55 L114.64,490.36 L114.81,494.20 L114.99,497.90 L115.16,501.75 L115.34,505.93 L115.51,510.34 L115.69,514.86 L115.87,519.41 L116.04,523.88 L116.22,528.16 L116.39,532.15 L116.57,535.76 L116.75,538.87 L116.92,541.40 L117.10,543.29 L117.27,544.90 L117.45,546.35 L117.63,547.65 L117.80,548.84 L117.98,549.93 L118.15,550.95 L118.33,551.92 L118.50,552.87 L118.68,553.83 L118.86,554.81 L119.03,555.85 L119.21,556.96 L119.38,558.15 L119.56,559.39 L119.74,560.66 L119.91,561.95 L120.09,563.25 L120.26,564.54 L120.44,565.81 L120.62,567.05 L120.79,568.24 L120.97,569.37 L121.14,570.42 L121.32,571.39 L121.50,572.26 L121.67,573.11 L121.85,573.95 L122.02,574.78 L122.20,575.58 L122.37,576.37 L122.55,577.14 L122.73,577.89 L122.90,578.62 L123.08,579.33 L123.25,580.01 L123.43,580.66 L123.61,581.29 L123.78,581.89 L123.96,582.46 L124.13,583.00 L124.31,583.50 L124.49,583.97 L124.66,584.40 L124.84,584.80 L125.01,585.16 L125.19,585.50 L125.36,585.82 L125.54,586.13 L125.72,586.43 L125.89,586.72 L126.07,587.00 L126.24,587.26 L126.42,587.52 L126.60,587.76 L126.77,588.00 L126.95,588.23 L127.12,588.45 L127.30,588.66 L127.48,588.87 L127.65,589.07 L127.83,589.26 L128.00,589.45 L128.18,589.63 L128.35,589.80 L128.53,589.97 L128.71,590.14 L128.88,590.31 L129.06,590.47 L129.23,590.62 L129.41,590.78 L129.59,590.93 L129.76,591.08 L129.94,591.23 L130.11,591.37 L130.29,591.51 L130.47,591.65 L130.64,591.78 L130.82,591.92 L130.99,592.04 L131.17,592.17 L131.35,592.29 L131.52,592.41 L131.70,592.53 L131.87,592.65 L132.05,592.76 L132.22,592.87 L132.40,592.97 L132.58,593.07 L132.75,593.17 L132.93,593.27 L133.10,593.36 L133.28,593.46 L133.46,593.54 L133.63,593.63 L133.81,593.71 L133.98,593.79 L134.16,593.87 L134.34,593.95 L134.51,594.02 L134.69,594.10 L134.86,594.17 L135.04,594.24 L135.21,594.31 L135.39,594.38 L135.57,594.44 L135.74,594.51 L135.92,594.57 L136.09,594.64 L136.27,594.70 L136.45,594.76 L136.62,594.82 L136.80,594.88 L136.97,594.94 L137.15,594.99 L137.33,595.05 L137.50,595.10 L137.68,595.16 L137.85,595.21 L138.03,595.27 L138.21,595.32 L138.38,595.37 L138.56,595.43 L138.73,595.48 L138.91,595.53 L139.08,595.58 L139.26,595.63 L139.44,595.68 L139.61,595.73 L139.79,595.78 L139.96,595.83 L140.14,595.88 L140.32,595.93 L140.49,595.98 L140.67,596.03 L140.84,596.08 L141.02,596.13 L141.20,596.18 L141.37,596.24 L141.55,596.29 L141.72,596.34 L141.90,596.39 L142.07,596.44 L142.25,596.49 L142.43,596.54 L142.60,596.59 L142.78,596.64 L142.95,596.69 L143.13,596.73 L143.31,596.78 L143.48,596.83 L143.66,596.87 L143.83,596.92 L144.01,596.97 L144.19,597.01 L144.36,597.06 L144.54,597.10 L144.71,597.15 L144.89,597.19 L145.06,597.24 L145.24,597.28 L145.42,597.33 L145.59,597.37 L145.77,597.42 L145.94,597.46 L146.12,597.50 L146.30,597.55 L146.47,597.59 L146.65,597.63 L146.82,597.68 L147.00,597.72 L147.18,597.77 L147.35,597.81 L147.53,597.85 L147.70,597.90 L147.88,597.94 L148.06,597.99 L148.23,598.03 L148.41,598.08 L148.58,598.12 L148.76,598.16 L148.93,598.21 L149.11,598.26 L149.29,598.30 L149.46,598.35 L149.64,598.39 L149.81,598.44 L149.99,598.49 L150.17,598.53 L150.34,598.58 L150.52,598.63 L150.69,598.68 L150.87,598.73 L151.05,598.78 L151.22,598.83 L151.40,598.88 L151.57,598.93 L151.75,598.98 L151.92,599.03 L152.10,599.08 L152.28,599.13 L152.45,599.19 L152.63,599.24 L152.80,599.29 L152.98,599.34 L153.16,599.40 L153.33,599.45 L153.51,599.51 L153.68,599.56 L153.86,599.62 L154.04,599.67 L154.21,599.73 L154.39,599.78 L154.56,599.84 L154.74,599.89 L154.92,599.95 L155.09,600.01 L155.27,600.06 L155.44,600.12 L155.62,600.18 L155.79,600.23 L155.97,600.29 L156.15,600.35 L156.32,600.40 L156.50,600.46 L156.67,600.52 L156.85,600.58 L157.03,600.63 L157.20,600.69 L157.38,600.75 L157.55,600.81 L157.73,600.86 L157.91,600.92 L158.08,600.98 L158.26,601.03 L158.43,601.09 L158.61,601.15 L158.78,601.21 L158.96,601.26 L159.14,601.32 L159.31,601.38 L159.49,601.43 L159.66,601.49 L159.84,601.54 L160.02,601.60 L160.19,601.66 L160.37,601.71 L160.54,601.77 L160.72,601.82 L160.90,601.88 L161.07,601.93 L161.25,601.99 L161.42,602.04 L161.60,602.09 L161.78,602.15 L161.95,602.20 L162.13,602.25 L162.30,602.31 L162.48,602.36 L162.65,602.41 L162.83,602.46 L163.01,602.51 L163.18,602.56 L163.36,602.61 L163.53,602.66 L163.71,602.71 L163.89,602.76 L164.06,602.81 L164.24,602.86 L164.41,602.91 L164.59,602.96 L164.77,603.01 L164.94,603.06 L165.12,603.11 L165.29,603.16 L165.47,603.21 L165.64,603.26 L165.82,603.31 L166.00,603.35 L166.17,603.40 L166.35,603.45 L166.52,603.50 L166.70,603.55 L166.88,603.60 L167.05,603.64 L167.23,603.69 L167.40,603.74 L167.58,603.79 L167.76,603.84 L167.93,603.88 L168.11,603.93 L168.28,603.98 L168.46,604.03 L168.63,604.07 L168.81,604.12 L168.99,604.17 L169.16,604.22 L169.34,604.26 L169.51,604.31 L169.69,604.36 L169.87,604.40 L170.04,604.45 L170.22,604.50 L170.39,604.54 L170.57,604.59 L170.75,604.64 L170.92,604.68 L171.10,604.73 L171.27,604.78 L171.45,604.82 L171.63,604.87 L171.80,604.91 L171.98,604.96 L172.15,605.01 L172.33,605.05 L172.50,605.10 L172.68,605.14 L172.86,605.19 L173.03,605.23 L173.21,605.28 L173.38,605.33 L173.56,605.37 L173.74,605.42 L173.91,605.46 L174.09,605.51 L174.26,605.55 L174.44,605.60 L174.62,605.64 L174.79,605.69 L174.97,605.73 L175.14,605.78 L175.32,605.82 L175.49,605.87 L175.67,605.91 L175.85,605.96 L176.02,606.00 L176.20,606.05 L176.37,606.09 L176.55,606.14 L176.73,606.18 L176.90,606.22 L177.08,606.27 L177.25,606.31 L177.43,606.36 L177.61,606.40 L177.78,606.45 L177.96,606.49 L178.13,606.53 L178.31,606.58 L178.49,606.62 L178.66,606.67 L178.84,606.71 L179.01,606.75 L179.19,606.80 L179.36,606.84 L179.54,606.89 L179.72,606.93 L179.89,606.97 L180.07,607.02 L180.24,607.06 L180.42,607.11 L180.60,607.15 L180.77,607.19 L180.95,607.24 L181.12,607.28 L181.30,607.32 L181.48,607.37 L181.65,607.41 L181.83,607.46 L182.00,607.50 L182.18,607.54 L182.35,607.59 L182.53,607.63 L182.71,607.67 L182.88,607.72 L183.06,607.76 L183.23,607.80 L183.41,607.85 L183.59,607.89 L183.76,607.93 L183.94,607.98 L184.11,608.02 L184.29,608.07 L184.47,608.11 L184.64,608.15 L184.82,608.20 L184.99,608.24 L185.17,608.28 L185.34,608.33 L185.52,608.37 L185.70,608.41 L185.87,608.46 L186.05,608.50 L186.22,608.54 L186.40,608.59 L186.58,608.63 L186.75,608.67 L186.93,608.72 L187.10,608.76 L187.28,608.80 L187.46,608.85 L187.63,608.89 L187.81,608.93 L187.98,608.98 L188.16,609.02 L188.34,609.07 L188.51,609.11 L188.69,609.15 L188.86,609.20 L189.04,609.24 L189.21,609.28 L189.39,609.33 L189.57,609.37 L189.74,609.41 L189.92,609.46 L190.09,609.50 L190.27,609.55 L192.58,610.12 L194.90,610.70 L197.21,611.27 L199.53,611.84 L201.84,612.40 L204.16,612.97 L206.47,613.52 L208.78,614.08 L211.10,614.62 L213.41,615.16 L215.73,615.69 L218.04,616.22 L220.35,616.74 L222.67,617.25 L224.98,617.76 L227.30,618.27 L229.61,618.77 L231.93,619.27 L234.24,619.77 L236.55,620.26 L238.87,620.76 L241.18,621.24 L243.50,621.73 L245.81,622.21 L248.13,622.69 L250.44,623.17 L252.75,623.64 L255.07,624.11 L257.38,624.58 L259.70,625.05 L262.01,625.51 L264.33,625.97 L266.64,626.43 L268.95,626.89 L271.27,627.35 L273.58,627.81 L275.90,628.26 L278.21,628.71 L280.52,629.16 L282.84,629.61 L285.15,630.05 L287.47,630.50 L289.78,630.94 L292.10,631.38 L294.41,631.81 L296.72,632.25 L299.04,632.68 L301.35,633.11 L303.67,633.53 L305.98,633.96 L308.30,634.38 L310.61,634.80 L312.92,635.22 L315.24,635.63 L317.55,636.05 L319.87,636.46 L322.18,636.86 L324.49,637.27 L326.81,637.67 L329.12,638.07 L331.44,638.47 L333.75,638.87 L336.07,639.26 L338.38,639.65 L340.69,640.04 L343.01,640.43 L345.32,640.82 L347.64,641.20 L349.95,641.58 L352.27,641.96 L354.58,642.34 L356.89,642.72 L359.21,643.09 L361.52,643.46 L363.84,643.83 L366.15,644.20 L368.47,644.56 L370.78,644.92 L373.09,645.28 L375.41,645.64 L377.72,646.00 L380.04,646.35 L382.35,646.70 L384.66,647.05 L386.98,647.39 L389.29,647.74 L391.61,648.08 L393.92,648.42 L396.24,648.76 L398.55,649.09 L400.86,649.42 L403.18,649.76 L405.49,650.09 L407.81,650.41 L410.12,650.74 L412.44,651.06 L414.75,651.39 L417.06,651.71 L419.38,652.03 L421.69,652.34 L424.01,652.66 L426.32,652.97 L428.63,653.28 L430.95,653.59 L433.26,653.90 L435.58,654.21 L437.89,654.51 L440.21,654.82 L442.52,655.12 L444.83,655.42 L447.15,655.72 L449.46,656.02 L451.78,656.32 L454.09,656.61 L456.41,656.90 L458.72,657.20 L461.03,657.49 L463.35,657.77 L465.66,658.06 L467.98,658.35 L470.29,658.63 L472.60,658.91 L474.92,659.19 L477.23,659.47 L479.55,659.74 L481.86,660.02 L484.18,660.29 L486.49,660.56 L488.80,660.82 L491.12,661.09 L493.43,661.35 L495.75,661.62 L498.06,661.88 L500.38,662.14 L502.69,662.39 L505.00,662.65 L507.32,662.90 L509.63,663.15 L511.95,663.41 L514.26,663.66 L516.58,663.90 L518.89,664.15 L521.20,664.39 L523.52,664.64 L525.83,664.88 L528.15,665.12 L530.46,665.36 L532.77,665.60 L535.09,665.84 L537.40,666.07 L539.72,666.31 L542.03,666.54 L544.35,666.77 L546.66,667.00 L548.97,667.24 L551.29,667.47 L553.60,667.69 L555.92,667.92 L558.23,668.15 L560.55,668.37 L562.86,668.60 L565.17,668.82 L567.49,669.04 L569.80,669.26 L572.12,669.48 L574.43,669.70 L576.74,669.92 L579.06,670.13 L581.37,670.34 L583.69,670.56 L586.00,670.77 L588.32,670.97 L590.63,671.18 L592.94,671.38 L595.26,671.59 L597.57,671.79 L599.89,671.98 L602.20,672.18 L604.52,672.38 L606.83,672.57 L609.14,672.77 L611.46,672.96 L613.77,673.15 L616.09,673.34 L618.40,673.53 L620.72,673.71 L623.03,673.90 L625.34,674.08 L627.66,674.27 L629.97,674.45 L632.29,674.63 L634.60,674.81 L636.91,674.98 L639.23,675.16 L641.54,675.33 L643.86,675.50 L646.17,675.67 L648.49,675.84 L650.80,676.01" fill="none" stroke="#d02600" stroke-width="6.1" stroke-linecap="butt" stroke-linejoin="round" stroke-dasharray="31.1 5.8 12.7 5.8" clip-path="url(#clipC)" />
<line x1="243.10" y1="485.70" x2="297.70" y2="485.70" stroke="#101c5c" stroke-width="6.1" />
<line x1="243.10" y1="514.40" x2="298.90" y2="514.40" stroke="#969696" stroke-width="6.1" stroke-dasharray="18.5 18.5"/>
<line x1="430.70" y1="485.70" x2="480.40" y2="485.70" stroke="#f2694e" stroke-width="6.1" stroke-dasharray="12.4 6.1"/>
<line x1="430.70" y1="514.40" x2="480.40" y2="514.40" stroke="#d02600" stroke-width="6.1" stroke-dasharray="31.1 5.8 12.7 5.8"/>
<text transform="translate(314.50,492.70)" font-size="19.7" text-anchor="start" font-weight="normal" fill="#000" stroke="#000" stroke-width="0.2" stroke-linejoin="round">Phon.scatt</text>
<text transform="translate(314.50,521.30)" font-size="19.7" text-anchor="start" font-weight="normal" fill="#000" stroke="#000" stroke-width="0.2" stroke-linejoin="round">+Coh.Dex</text>
<text transform="translate(498.00,492.70)" font-size="19.7" text-anchor="start" font-weight="normal" fill="#000" stroke="#000" stroke-width="0.2" stroke-linejoin="round">+Exchange</text>
<text transform="translate(498.00,521.30)" font-size="19.7" text-anchor="start" font-weight="normal" fill="#000" stroke="#000" stroke-width="0.2" stroke-linejoin="round">+Incoh.Dex.</text>
<rect x="96" y="458.4" width="554.80" height="255.40" fill="none" stroke="#0a0a0a" stroke-width="1.4"/>
<line x1="109.00" y1="713.80" x2="109.00" y2="719.50" stroke="#000" stroke-width="1.4" />
<text transform="translate(109.00,742.30)" font-size="24" text-anchor="middle" font-weight="normal" fill="#000" stroke="#000" stroke-width="0.4" stroke-linejoin="round">0</text>
<line x1="217.40" y1="713.80" x2="217.40" y2="719.50" stroke="#000" stroke-width="1.4" />
<text transform="translate(217.40,742.30)" font-size="24" text-anchor="middle" font-weight="normal" fill="#000" stroke="#000" stroke-width="0.4" stroke-linejoin="round">2.0</text>
<line x1="325.70" y1="713.80" x2="325.70" y2="719.50" stroke="#000" stroke-width="1.4" />
<text transform="translate(325.70,742.30)" font-size="24" text-anchor="middle" font-weight="normal" fill="#000" stroke="#000" stroke-width="0.4" stroke-linejoin="round">4.0</text>
<line x1="434.10" y1="713.80" x2="434.10" y2="719.50" stroke="#000" stroke-width="1.4" />
<text transform="translate(434.10,742.30)" font-size="24" text-anchor="middle" font-weight="normal" fill="#000" stroke="#000" stroke-width="0.4" stroke-linejoin="round">6.0</text>
<line x1="542.40" y1="713.80" x2="542.40" y2="719.50" stroke="#000" stroke-width="1.4" />
<text transform="translate(542.40,742.30)" font-size="24" text-anchor="middle" font-weight="normal" fill="#000" stroke="#000" stroke-width="0.4" stroke-linejoin="round">8.0</text>
<line x1="650.80" y1="713.80" x2="650.80" y2="719.50" stroke="#000" stroke-width="1.4" />
<text transform="translate(650.80,742.30)" font-size="24" text-anchor="middle" font-weight="normal" fill="#000" stroke="#000" stroke-width="0.4" stroke-linejoin="round">10.0</text>
<line x1="90.30" y1="469.60" x2="96.00" y2="469.60" stroke="#000" stroke-width="1.4" />
<text transform="translate(84.60,478.20)" font-size="24" text-anchor="end" font-weight="normal" fill="#000" stroke="#000" stroke-width="0.4" stroke-linejoin="round">1.00</text>
<line x1="90.30" y1="527.80" x2="96.00" y2="527.80" stroke="#000" stroke-width="1.4" />
<text transform="translate(84.60,536.40)" font-size="24" text-anchor="end" font-weight="normal" fill="#000" stroke="#000" stroke-width="0.4" stroke-linejoin="round">0.75</text>
<line x1="90.30" y1="586.00" x2="96.00" y2="586.00" stroke="#000" stroke-width="1.4" />
<text transform="translate(84.60,594.60)" font-size="24" text-anchor="end" font-weight="normal" fill="#000" stroke="#000" stroke-width="0.4" stroke-linejoin="round">0.50</text>
<line x1="90.30" y1="644.20" x2="96.00" y2="644.20" stroke="#000" stroke-width="1.4" />
<text transform="translate(84.60,652.80)" font-size="24" text-anchor="end" font-weight="normal" fill="#000" stroke="#000" stroke-width="0.4" stroke-linejoin="round">0.25</text>
<line x1="90.30" y1="702.20" x2="96.00" y2="702.20" stroke="#000" stroke-width="1.4" />
<text transform="translate(84.60,710.80)" font-size="24" text-anchor="end" font-weight="normal" fill="#000" stroke="#000" stroke-width="0.4" stroke-linejoin="round">0.00</text>
<text transform="translate(374.30,770.50)" font-size="24.5" text-anchor="middle" font-weight="normal" fill="#000" stroke="#000" stroke-width="0.4" stroke-linejoin="round">Time delay, ps</text>
<text transform="translate(24.00,586.00) rotate(-90)" font-size="24.5" text-anchor="middle" font-weight="normal" fill="#000" stroke="#000" stroke-width="0.4" stroke-linejoin="round">CD (Norm.)</text>
<rect x="120.2" y="800" width="32" height="388.5" fill="#dfe8ea"/>
<rect x="156.2" y="800" width="492.5" height="388.5" fill="#f8fbf1"/>
<line x1="81.70" y1="1066.70" x2="655.00" y2="1066.70" stroke="#ababab" stroke-width="2.4" />
<path d="M81.70,1059.00 L81.92,1059.00 L82.14,1059.00 L82.36,1059.00 L82.58,1059.00 L82.80,1059.00 L83.01,1059.00 L83.23,1059.00 L83.45,1059.00 L83.67,1059.00 L83.89,1059.00 L84.11,1059.00 L84.33,1059.00 L84.55,1059.00 L84.77,1059.00 L84.99,1059.00 L85.21,1059.00 L85.42,1059.00 L85.64,1059.00 L85.86,1059.00 L86.08,1059.00 L86.30,1059.00 L86.52,1059.00 L86.74,1059.00 L86.96,1059.00 L87.18,1059.00 L87.40,1059.00 L87.62,1059.00 L87.83,1059.00 L88.05,1059.00 L88.27,1059.00 L88.49,1059.00 L88.71,1059.00 L88.93,1059.00 L89.15,1059.00 L89.37,1059.00 L89.59,1059.00 L89.81,1059.00 L90.03,1059.00 L90.24,1059.00 L90.46,1059.00 L90.68,1059.00 L90.90,1059.00 L91.12,1059.00 L91.34,1059.00 L91.56,1059.00 L91.78,1059.00 L92.00,1059.00 L92.22,1059.00 L92.44,1059.00 L92.65,1059.00 L92.87,1059.00 L93.09,1059.00 L93.31,1059.00 L93.53,1059.00 L93.75,1059.00 L93.97,1059.00 L94.19,1059.00 L94.41,1059.00 L94.63,1059.00 L94.85,1059.00 L95.06,1059.00 L95.28,1059.00 L95.50,1059.00 L95.72,1059.00 L95.94,1059.00 L96.16,1059.00 L96.38,1059.00 L96.60,1059.00 L96.82,1059.00 L97.04,1059.00 L97.26,1059.00 L97.47,1059.00 L97.69,1059.00 L97.91,1059.00 L98.13,1059.00 L98.35,1059.00 L98.57,1059.00 L98.79,1059.00 L99.01,1059.00 L99.23,1059.00 L99.45,1059.00 L99.67,1059.00 L99.88,1059.00 L100.10,1059.00 L100.32,1059.00 L100.54,1059.00 L100.76,1059.00 L100.98,1059.00 L101.20,1059.00 L101.42,1059.00 L101.64,1059.00 L101.86,1059.00 L102.08,1059.00 L102.29,1059.00 L102.51,1059.00 L102.73,1059.00 L102.95,1059.00 L103.17,1059.00 L103.39,1059.00 L103.61,1059.00 L103.83,1059.00 L104.05,1059.00 L104.27,1059.00 L104.49,1059.00 L104.71,1059.00 L104.92,1059.00 L105.14,1059.00 L105.36,1059.00 L105.58,1059.00 L105.80,1059.00 L106.02,1059.00 L106.24,1059.00 L106.46,1059.00 L106.68,1059.00 L106.90,1059.00 L107.12,1059.00 L107.33,1059.00 L107.55,1059.00 L107.77,1059.00 L107.99,1059.00 L108.21,1059.00 L108.43,1059.00 L108.65,1059.00 L108.87,1059.00 L109.09,1059.00 L109.31,1059.00 L109.53,1058.99 L109.74,1058.99 L109.96,1058.98 L110.18,1058.96 L110.40,1058.95 L110.62,1058.93 L110.84,1058.91 L111.06,1058.89 L111.28,1058.87 L111.50,1058.84 L111.72,1058.82 L111.94,1058.79 L112.15,1058.75 L112.37,1058.72 L112.59,1058.68 L112.81,1058.62 L113.03,1058.54 L113.25,1058.43 L113.47,1058.30 L113.69,1058.14 L113.91,1057.97 L114.13,1057.78 L114.35,1057.56 L114.56,1057.34 L114.78,1057.07 L115.00,1056.70 L115.22,1056.25 L115.44,1055.71 L115.66,1055.10 L115.88,1054.41 L116.10,1053.62 L116.32,1052.54 L116.54,1051.20 L116.76,1049.71 L116.97,1048.18 L117.19,1046.66 L117.41,1044.97 L117.63,1042.85 L117.85,1039.94 L118.07,1036.29 L118.29,1032.18 L118.51,1027.77 L118.73,1022.69 L118.95,1016.99 L119.17,1010.58 L119.38,1003.31 L119.60,995.56 L119.82,987.72 L120.04,980.30 L120.26,973.31 L120.48,965.33 L120.70,954.10 L120.92,936.94 L121.14,923.30 L121.36,914.62 L121.58,907.56 L121.79,901.19 L122.01,894.57 L122.23,887.60 L122.45,880.76 L122.67,874.19 L122.89,867.97 L123.11,861.75 L123.33,855.72 L123.55,850.22 L123.77,845.61 L123.99,841.80 L124.20,838.38 L124.42,835.59 L124.64,833.70 L124.86,832.24 L125.08,831.13 L125.30,830.60 L125.70,831.15 L126.20,835.24 L126.70,839.19 L127.20,842.99 L127.69,846.66 L128.19,850.19 L128.69,853.59 L129.19,856.87 L129.69,860.03 L130.19,863.08 L130.69,866.01 L131.19,868.85 L131.68,871.58 L132.18,874.21 L132.68,876.75 L133.18,879.21 L133.68,881.57 L134.18,883.86 L134.68,886.06 L135.17,888.19 L135.67,890.25 L136.17,892.23 L136.67,894.15 L137.17,896.00 L137.67,897.80 L138.17,899.53 L138.67,901.20 L139.16,902.82 L139.66,904.38 L140.16,905.90 L140.66,907.36 L141.16,908.78 L141.66,910.15 L142.16,911.48 L142.65,912.77 L143.15,914.02 L143.65,915.22 L144.15,916.40 L144.65,917.53 L145.15,918.63 L145.65,919.70 L146.14,920.74 L146.64,921.74 L147.14,922.72 L147.64,923.67 L148.14,924.59 L148.64,925.48 L149.14,926.35 L149.64,927.20 L150.13,928.02 L150.63,928.82 L151.13,929.60 L151.63,930.35 L152.13,931.09 L152.63,931.81 L153.13,932.51 L153.62,933.19 L154.12,933.86 L154.62,934.51 L155.12,935.14 L155.62,935.76 L156.12,936.36 L156.62,936.95 L157.12,937.53 L157.61,938.09 L158.11,938.64 L158.61,939.18 L159.11,939.70 L159.61,940.22 L160.11,940.72 L160.61,941.22 L161.10,941.70 L161.60,942.17 L162.10,942.64 L162.60,943.09 L163.10,943.54 L163.60,943.98 L164.10,944.41 L164.60,944.83 L165.09,945.25 L165.59,945.66 L166.09,946.06 L166.59,946.45 L167.09,946.84 L167.59,947.22 L168.09,947.60 L168.58,947.97 L169.08,948.33 L169.58,948.69 L170.08,949.04 L170.58,949.39 L171.08,949.73 L171.58,950.07 L172.08,950.40 L172.57,950.73 L173.07,951.06 L173.57,951.38 L174.07,951.70 L174.57,952.01 L175.07,952.32 L175.57,952.62 L176.06,952.92 L176.56,953.22 L177.06,953.52 L177.56,953.81 L178.06,954.10 L178.56,954.38 L179.06,954.67 L179.56,954.95 L180.05,955.22 L180.55,955.50 L181.05,955.77 L181.55,956.04 L182.05,956.30 L182.55,956.57 L183.05,956.83 L183.54,957.09 L184.04,957.35 L184.54,957.60 L185.04,957.86 L185.54,958.11 L186.04,958.36 L186.54,958.60 L187.03,958.85 L187.53,959.09 L188.03,959.33 L188.53,959.57 L189.03,959.81 L189.53,960.05 L190.03,960.28 L190.53,960.52 L191.02,960.75 L191.52,960.98 L192.02,961.21 L192.52,961.44 L193.02,961.66 L193.52,961.89 L194.02,962.11 L194.51,962.33 L195.01,962.55 L195.51,962.77 L196.01,962.99 L196.51,963.21 L197.01,963.42 L197.51,963.64 L198.01,963.85 L198.50,964.07 L199.00,964.28 L199.50,964.49 L200.00,964.70 L202.30,965.65 L204.59,966.58 L206.89,967.49 L209.19,968.38 L211.48,969.25 L213.78,970.11 L216.08,970.96 L218.38,971.79 L220.67,972.60 L222.97,973.41 L225.27,974.20 L227.56,974.98 L229.86,975.74 L232.16,976.50 L234.45,977.24 L236.75,977.98 L239.05,978.70 L241.35,979.41 L243.64,980.11 L245.94,980.81 L248.24,981.49 L250.53,982.17 L252.83,982.83 L255.13,983.49 L257.42,984.14 L259.72,984.78 L262.02,985.41 L264.32,986.03 L266.61,986.65 L268.91,987.26 L271.21,987.86 L273.50,988.46 L275.80,989.04 L278.10,989.62 L280.39,990.20 L282.69,990.76 L284.99,991.32 L287.29,991.87 L289.58,992.42 L291.88,992.96 L294.18,993.50 L296.47,994.02 L298.77,994.55 L301.07,995.06 L303.36,995.57 L305.66,996.08 L307.96,996.58 L310.26,997.08 L312.55,997.56 L314.85,998.05 L317.15,998.53 L319.44,999.00 L321.74,999.47 L324.04,999.94 L326.33,1000.40 L328.63,1000.85 L330.93,1001.30 L333.23,1001.75 L335.52,1002.19 L337.82,1002.62 L340.12,1003.06 L342.41,1003.49 L344.71,1003.91 L347.01,1004.33 L349.30,1004.75 L351.60,1005.16 L353.90,1005.57 L356.19,1005.97 L358.49,1006.37 L360.79,1006.77 L363.09,1007.16 L365.38,1007.55 L367.68,1007.94 L369.98,1008.32 L372.27,1008.70 L374.57,1009.07 L376.87,1009.45 L379.16,1009.81 L381.46,1010.18 L383.76,1010.54 L386.06,1010.90 L388.35,1011.26 L390.65,1011.61 L392.95,1011.96 L395.24,1012.31 L397.54,1012.65 L399.84,1012.99 L402.13,1013.33 L404.43,1013.66 L406.73,1014.00 L409.03,1014.32 L411.32,1014.65 L413.62,1014.97 L415.92,1015.30 L418.21,1015.61 L420.51,1015.93 L422.81,1016.24 L425.10,1016.55 L427.40,1016.86 L429.70,1017.17 L432.00,1017.47 L434.29,1017.77 L436.59,1018.07 L438.89,1018.36 L441.18,1018.66 L443.48,1018.95 L445.78,1019.24 L448.07,1019.52 L450.37,1019.81 L452.67,1020.09 L454.97,1020.37 L457.26,1020.65 L459.56,1020.92 L461.86,1021.19 L464.15,1021.46 L466.45,1021.73 L468.75,1022.00 L471.04,1022.26 L473.34,1022.53 L475.64,1022.79 L477.94,1023.05 L480.23,1023.30 L482.53,1023.56 L484.83,1023.81 L487.12,1024.06 L489.42,1024.31 L491.72,1024.55 L494.01,1024.80 L496.31,1025.04 L498.61,1025.28 L500.91,1025.52 L503.20,1025.76 L505.50,1026.00 L507.80,1026.23 L510.09,1026.46 L512.39,1026.69 L514.69,1026.92 L516.98,1027.15 L519.28,1027.37 L521.58,1027.60 L523.87,1027.82 L526.17,1028.04 L528.47,1028.26 L530.77,1028.48 L533.06,1028.69 L535.36,1028.91 L537.66,1029.12 L539.95,1029.33 L542.25,1029.54 L544.55,1029.75 L546.84,1029.95 L549.14,1030.16 L551.44,1030.36 L553.74,1030.56 L556.03,1030.76 L558.33,1030.96 L560.63,1031.16 L562.92,1031.35 L565.22,1031.55 L567.52,1031.74 L569.81,1031.93 L572.11,1032.12 L574.41,1032.31 L576.71,1032.50 L579.00,1032.69 L581.30,1032.87 L583.60,1033.05 L585.89,1033.24 L588.19,1033.42 L590.49,1033.60 L592.78,1033.77 L595.08,1033.95 L597.38,1034.13 L599.68,1034.30 L601.97,1034.48 L604.27,1034.65 L606.57,1034.82 L608.86,1034.99 L611.16,1035.16 L613.46,1035.32 L615.75,1035.49 L618.05,1035.65 L620.35,1035.82 L622.65,1035.98 L624.94,1036.14 L627.24,1036.30 L629.54,1036.46 L631.83,1036.62 L634.13,1036.77 L636.43,1036.93 L638.72,1037.08 L641.02,1037.24 L643.32,1037.39 L645.62,1037.54 L647.91,1037.69 L650.21,1037.84 L652.51,1037.99 L654.80,1038.13 L657.10,1038.28" fill="none" stroke="#101c5c" stroke-width="6.0" stroke-linecap="butt" stroke-linejoin="round" />
<path d="M81.70,1074.00 L82.66,1074.00 L83.62,1074.00 L84.58,1074.00 L85.54,1074.00 L86.50,1074.00 L87.46,1074.00 L88.42,1074.00 L89.38,1074.00 L90.35,1074.00 L91.31,1074.00 L92.27,1074.00 L93.23,1074.00 L94.19,1074.00 L95.15,1074.00 L96.11,1074.00 L97.07,1074.00 L98.03,1074.00 L98.99,1074.00 L99.95,1074.00 L100.91,1074.00 L101.87,1074.00 L102.83,1074.00 L103.79,1074.00 L104.75,1074.00 L105.72,1074.00 L106.68,1074.00 L107.64,1074.00 L108.60,1074.01 L109.56,1074.05 L110.52,1074.13 L111.48,1074.24 L112.44,1074.38 L113.40,1074.66 L114.36,1075.07 L115.32,1075.57 L116.28,1076.26 L117.24,1077.18 L118.20,1078.23 L119.16,1079.34 L120.12,1080.69 L121.08,1082.51 L122.05,1085.79 L123.01,1091.61 L123.97,1098.52 L124.93,1105.02 L125.89,1109.92 L126.85,1114.26 L127.81,1118.29 L128.77,1122.03 L129.73,1125.46 L130.69,1128.60 L131.65,1131.57 L132.61,1134.38 L133.57,1136.96 L134.53,1139.26 L135.49,1141.21 L136.45,1142.87 L137.41,1144.40 L138.38,1145.80 L139.34,1147.06 L140.30,1148.16 L141.26,1149.11 L142.22,1149.92 L143.18,1150.67 L144.14,1151.36 L145.10,1151.97 L146.06,1152.51 L147.02,1152.95 L147.98,1153.29 L148.94,1153.58 L149.90,1153.85 L150.86,1154.09 L151.82,1154.29 L152.78,1154.43 L153.75,1154.50 L154.71,1154.49 L155.67,1154.45 L156.63,1154.37 L157.59,1154.28 L158.55,1154.17 L159.51,1154.06 L160.47,1153.94 L161.43,1153.78 L162.39,1153.59 L163.35,1153.37 L164.31,1153.13 L165.27,1152.88 L166.23,1152.62 L167.19,1152.35 L168.15,1152.06 L169.11,1151.75 L170.08,1151.43 L171.04,1151.09 L172.00,1150.74 L172.96,1150.37 L173.92,1150.00 L174.88,1149.61 L175.84,1149.21 L176.80,1148.80 L177.76,1148.38 L178.72,1147.96 L179.68,1147.53 L180.64,1147.10 L181.60,1146.66 L182.56,1146.22 L183.52,1145.77 L184.48,1145.30 L185.44,1144.83 L186.41,1144.34 L187.37,1143.83 L188.33,1143.32 L189.29,1142.79 L190.25,1142.26 L191.21,1141.72 L192.17,1141.17 L193.13,1140.61 L194.09,1140.05 L195.05,1139.48 L196.01,1138.90 L196.97,1138.33 L197.93,1137.75 L198.89,1137.17 L199.85,1136.59 L200.81,1136.00 L201.78,1135.41 L202.74,1134.81 L203.70,1134.20 L204.66,1133.58 L205.62,1132.96 L206.58,1132.33 L207.54,1131.69 L208.50,1131.05 L209.46,1130.40 L210.42,1129.75 L211.38,1129.10 L212.34,1128.44 L213.30,1127.79 L214.26,1127.13 L215.22,1126.46 L216.18,1125.80 L217.14,1125.14 L218.11,1124.48 L219.07,1123.82 L220.03,1123.16 L220.99,1122.50 L221.95,1121.85 L222.91,1121.20 L223.87,1120.55 L224.83,1119.91 L225.79,1119.27 L226.75,1118.63 L227.71,1117.99 L228.67,1117.34 L229.63,1116.69 L230.59,1116.03 L231.55,1115.38 L232.51,1114.73 L233.47,1114.07 L234.44,1113.42 L235.40,1112.77 L236.36,1112.11 L237.32,1111.46 L238.28,1110.82 L239.24,1110.17 L240.20,1109.53 L241.16,1108.89 L242.12,1108.26 L243.08,1107.63 L244.04,1107.01 L245.00,1106.39 L245.96,1105.78 L246.92,1105.18 L247.88,1104.58 L248.84,1104.00 L249.81,1103.42 L250.77,1102.84 L251.73,1102.28 L252.69,1101.72 L253.65,1101.16 L254.61,1100.61 L255.57,1100.07 L256.53,1099.53 L257.49,1098.99 L258.45,1098.46 L259.41,1097.94 L260.37,1097.42 L261.33,1096.90 L262.29,1096.38 L263.25,1095.87 L264.21,1095.37 L265.17,1094.86 L266.14,1094.36 L267.10,1093.87 L268.06,1093.37 L269.02,1092.87 L269.98,1092.37 L270.94,1091.87 L271.90,1091.37 L272.86,1090.87 L273.82,1090.36 L274.78,1089.87 L275.74,1089.37 L276.70,1088.89 L277.66,1088.41 L278.62,1087.94 L279.58,1087.49 L280.54,1087.05 L281.51,1086.62 L282.47,1086.20 L283.43,1085.81 L284.39,1085.43 L285.35,1085.07 L286.31,1084.72 L287.27,1084.37 L288.23,1084.03 L289.19,1083.70 L290.15,1083.37 L291.11,1083.05 L292.07,1082.74 L293.03,1082.44 L293.99,1082.16 L294.95,1081.88 L295.91,1081.62 L296.87,1081.38 L297.84,1081.15 L298.80,1080.94 L299.76,1080.75 L300.72,1080.57 L301.68,1080.40 L302.64,1080.24 L303.60,1080.08 L304.56,1079.94 L305.52,1079.79 L306.48,1079.65 L307.44,1079.52 L308.40,1079.39 L309.36,1079.27 L310.32,1079.15 L311.28,1079.04 L312.24,1078.92 L313.20,1078.81 L314.17,1078.71 L315.13,1078.60 L316.09,1078.50 L317.05,1078.40 L318.01,1078.30 L318.97,1078.20 L319.93,1078.11 L320.89,1078.01 L321.85,1077.91 L322.81,1077.82 L323.77,1077.72 L324.73,1077.63 L325.69,1077.53 L326.65,1077.44 L327.61,1077.34 L328.57,1077.25 L329.54,1077.16 L330.50,1077.07 L331.46,1076.98 L332.42,1076.89 L333.38,1076.80 L334.34,1076.72 L335.30,1076.63 L336.26,1076.55 L337.22,1076.46 L338.18,1076.38 L339.14,1076.31 L340.10,1076.23 L341.06,1076.15 L342.02,1076.08 L342.98,1076.01 L343.94,1075.94 L344.90,1075.87 L345.87,1075.80 L346.83,1075.74 L347.79,1075.68 L348.75,1075.62 L349.71,1075.56 L350.67,1075.51 L351.63,1075.46 L352.59,1075.41 L353.55,1075.36 L354.51,1075.32 L355.47,1075.28 L356.43,1075.24 L357.39,1075.20 L358.35,1075.16 L359.31,1075.13 L360.27,1075.09 L361.23,1075.05 L362.20,1075.02 L363.16,1074.98 L364.12,1074.95 L365.08,1074.91 L366.04,1074.88 L367.00,1074.85 L367.96,1074.82 L368.92,1074.79 L369.88,1074.76 L370.84,1074.73 L371.80,1074.70 L372.76,1074.67 L373.72,1074.65 L374.68,1074.62 L375.64,1074.59 L376.60,1074.57 L377.57,1074.54 L378.53,1074.52 L379.49,1074.50 L380.45,1074.48 L381.41,1074.46 L382.37,1074.44 L383.33,1074.42 L384.29,1074.40 L385.25,1074.38 L386.21,1074.36 L387.17,1074.34 L388.13,1074.33 L389.09,1074.31 L390.05,1074.30 L391.01,1074.29 L391.97,1074.27 L392.93,1074.26 L393.90,1074.24 L394.86,1074.23 L395.82,1074.22 L396.78,1074.20 L397.74,1074.19 L398.70,1074.18 L399.66,1074.17 L400.62,1074.16 L401.58,1074.14 L402.54,1074.13 L403.50,1074.12 L404.46,1074.11 L405.42,1074.10 L406.38,1074.09 L407.34,1074.08 L408.30,1074.07 L409.26,1074.06 L410.23,1074.06 L411.19,1074.05 L412.15,1074.04 L413.11,1074.03 L414.07,1074.03 L415.03,1074.02 L415.99,1074.02 L416.95,1074.01 L417.91,1074.01 L418.87,1074.00 L419.83,1074.00 L420.79,1074.00 L421.75,1074.00 L422.71,1073.99 L423.67,1073.99 L424.63,1073.99 L425.60,1073.98 L426.56,1073.98 L427.52,1073.98 L428.48,1073.98 L429.44,1073.97 L430.40,1073.97 L431.36,1073.97 L432.32,1073.97 L433.28,1073.96 L434.24,1073.96 L435.20,1073.96 L436.16,1073.96 L437.12,1073.95 L438.08,1073.95 L439.04,1073.95 L440.00,1073.95 L440.96,1073.94 L441.93,1073.94 L442.89,1073.94 L443.85,1073.94 L444.81,1073.93 L445.77,1073.93 L446.73,1073.93 L447.69,1073.93 L448.65,1073.93 L449.61,1073.92 L450.57,1073.92 L451.53,1073.92 L452.49,1073.92 L453.45,1073.91 L454.41,1073.91 L455.37,1073.91 L456.33,1073.91 L457.29,1073.91 L458.26,1073.90 L459.22,1073.90 L460.18,1073.90 L461.14,1073.90 L462.10,1073.89 L463.06,1073.89 L464.02,1073.89 L464.98,1073.89 L465.94,1073.89 L466.90,1073.88 L467.86,1073.88 L468.82,1073.88 L469.78,1073.88 L470.74,1073.88 L471.70,1073.87 L472.66,1073.87 L473.63,1073.87 L474.59,1073.87 L475.55,1073.87 L476.51,1073.86 L477.47,1073.86 L478.43,1073.86 L479.39,1073.86 L480.35,1073.86 L481.31,1073.86 L482.27,1073.85 L483.23,1073.85 L484.19,1073.85 L485.15,1073.85 L486.11,1073.85 L487.07,1073.84 L488.03,1073.84 L488.99,1073.84 L489.96,1073.84 L490.92,1073.84 L491.88,1073.84 L492.84,1073.83 L493.80,1073.83 L494.76,1073.83 L495.72,1073.83 L496.68,1073.83 L497.64,1073.83 L498.60,1073.82 L499.56,1073.82 L500.52,1073.82 L501.48,1073.82 L502.44,1073.82 L503.40,1073.82 L504.36,1073.81 L505.33,1073.81 L506.29,1073.81 L507.25,1073.81 L508.21,1073.81 L509.17,1073.81 L510.13,1073.81 L511.09,1073.80 L512.05,1073.80 L513.01,1073.80 L513.97,1073.80 L514.93,1073.80 L515.89,1073.80 L516.85,1073.80 L517.81,1073.79 L518.77,1073.79 L519.73,1073.79 L520.69,1073.79 L521.66,1073.79 L522.62,1073.79 L523.58,1073.79 L524.54,1073.78 L525.50,1073.78 L526.46,1073.78 L527.42,1073.78 L528.38,1073.78 L529.34,1073.78 L530.30,1073.78 L531.26,1073.78 L532.22,1073.77 L533.18,1073.77 L534.14,1073.77 L535.10,1073.77 L536.06,1073.77 L537.02,1073.77 L537.99,1073.77 L538.95,1073.77 L539.91,1073.77 L540.87,1073.76 L541.83,1073.76 L542.79,1073.76 L543.75,1073.76 L544.71,1073.76 L545.67,1073.76 L546.63,1073.76 L547.59,1073.76 L548.55,1073.76 L549.51,1073.75 L550.47,1073.75 L551.43,1073.75 L552.39,1073.75 L553.36,1073.75 L554.32,1073.75 L555.28,1073.75 L556.24,1073.75 L557.20,1073.75 L558.16,1073.75 L559.12,1073.74 L560.08,1073.74 L561.04,1073.74 L562.00,1073.74 L562.96,1073.74 L563.92,1073.74 L564.88,1073.74 L565.84,1073.74 L566.80,1073.74 L567.76,1073.74 L568.72,1073.74 L569.69,1073.74 L570.65,1073.73 L571.61,1073.73 L572.57,1073.73 L573.53,1073.73 L574.49,1073.73 L575.45,1073.73 L576.41,1073.73 L577.37,1073.73 L578.33,1073.73 L579.29,1073.73 L580.25,1073.73 L581.21,1073.73 L582.17,1073.73 L583.13,1073.72 L584.09,1073.72 L585.05,1073.72 L586.02,1073.72 L586.98,1073.72 L587.94,1073.72 L588.90,1073.72 L589.86,1073.72 L590.82,1073.72 L591.78,1073.72 L592.74,1073.72 L593.70,1073.72 L594.66,1073.72 L595.62,1073.72 L596.58,1073.72 L597.54,1073.72 L598.50,1073.72 L599.46,1073.71 L600.42,1073.71 L601.39,1073.71 L602.35,1073.71 L603.31,1073.71 L604.27,1073.71 L605.23,1073.71 L606.19,1073.71 L607.15,1073.71 L608.11,1073.71 L609.07,1073.71 L610.03,1073.71 L610.99,1073.71 L611.95,1073.71 L612.91,1073.71 L613.87,1073.71 L614.83,1073.71 L615.79,1073.71 L616.75,1073.71 L617.72,1073.71 L618.68,1073.71 L619.64,1073.71 L620.60,1073.71 L621.56,1073.71 L622.52,1073.71 L623.48,1073.70 L624.44,1073.70 L625.40,1073.70 L626.36,1073.70 L627.32,1073.70 L628.28,1073.70 L629.24,1073.70 L630.20,1073.70 L631.16,1073.70 L632.12,1073.70 L633.08,1073.70 L634.05,1073.70 L635.01,1073.70 L635.97,1073.70 L636.93,1073.70 L637.89,1073.70 L638.85,1073.70 L639.81,1073.70 L640.77,1073.70 L641.73,1073.70 L642.69,1073.70 L643.65,1073.70 L644.61,1073.70 L645.57,1073.70 L646.53,1073.70 L647.49,1073.70 L648.45,1073.70 L649.42,1073.70 L650.38,1073.70 L651.34,1073.70 L652.30,1073.70 L653.26,1073.70 L654.22,1073.70 L655.18,1073.70 L656.14,1073.70 L657.10,1073.70" fill="none" stroke="#d02600" stroke-width="6.2" stroke-linecap="butt" stroke-linejoin="round" />
<text transform="translate(56.00,880.30)" font-size="36" text-anchor="start" font-weight="normal" fill="#101c5c" stroke="#101c5c" stroke-width="0.4" stroke-linejoin="round">A</text>
<text transform="translate(53.00,1130.00)" font-size="36" text-anchor="start" font-weight="normal" fill="#d02600" stroke="#d02600" stroke-width="0.4" stroke-linejoin="round">B</text>
<text transform="translate(159.60,865.10)" font-size="24" text-anchor="start" font-weight="normal" fill="#24717a" stroke="#24717a" stroke-width="0.4" stroke-linejoin="round">el-ph</text>
<text transform="translate(63.30,1183.70)" font-size="24" text-anchor="start" font-weight="normal" fill="#24717a" stroke="#24717a" stroke-width="0.4" stroke-linejoin="round">el-ph</text>
<text transform="translate(251.00,1156.80)" font-size="24" text-anchor="start" font-weight="bold" fill="#c48998" stroke="#c48998" stroke-width="0.4" stroke-linejoin="round">+single</text>
<text transform="translate(218.50,1180.00)" font-size="24" text-anchor="start" font-weight="bold" fill="#c48998" stroke="#c48998" stroke-width="0.4" stroke-linejoin="round">spin flip</text>
<text transform="translate(424.00,943.70) scale(0.985,1)" font-size="24" text-anchor="start" font-weight="bold" fill="#8f9878" stroke="#8f9878" stroke-width="0.4" stroke-linejoin="round">double spin flip</text>
<text transform="translate(443.00,968.00)" font-size="24" text-anchor="start" font-weight="normal" fill="#8f9878" stroke="#8f9878" stroke-width="0.4" stroke-linejoin="round">Dexter-enabled</text>
<text transform="translate(524.00,988.00)" font-size="24" text-anchor="start" font-weight="normal" fill="#8f9878" stroke="#8f9878" stroke-width="0.4" stroke-linejoin="round">exchange</text>
<path d="M136.70,809.30 L136.89,810.37 L137.07,811.44 L137.26,812.51 L137.45,813.58 L137.63,814.65 L137.81,815.72 L138.00,816.79 L138.18,817.85 L138.36,818.92 L138.55,819.99 L138.73,821.06 L138.91,822.13 L139.09,823.20 L139.27,824.27 L139.45,825.35 L139.62,826.42 L139.80,827.49 L139.98,828.56 L140.15,829.63 L140.33,830.70 L140.51,831.77 L140.68,832.84 L140.85,833.91 L141.03,834.98 L141.20,836.05 L141.37,837.13 L141.54,838.20 L141.71,839.27 L141.87,840.34 L142.03,841.42 L142.18,842.49 L142.34,843.57 L142.49,844.65 L142.64,845.72 L142.79,846.80 L142.94,847.87 L143.10,848.95 L143.25,850.02 L143.41,851.10 L143.57,852.17 L143.73,853.25 L143.89,854.32 L144.06,855.39 L144.24,856.46 L144.42,857.53 L144.61,858.59 L144.80,859.66 L145.00,860.72 L145.21,861.78 L145.43,862.84 L145.66,863.90 L145.90,864.96 L146.15,866.02 L146.40,867.08 L146.66,868.13 L146.92,869.19 L147.20,870.24 L147.47,871.29 L147.75,872.34 L148.04,873.39 L148.33,874.44 L148.62,875.48 L148.92,876.52 L149.22,877.57 L149.52,878.61 L149.82,879.65 L150.13,880.69 L150.45,881.73 L150.77,882.76 L151.10,883.80 L151.43,884.83 L151.77,885.87 L152.12,886.90 L152.46,887.93 L152.82,888.96 L153.18,889.98 L153.54,891.00 L153.91,892.02 L154.29,893.04 L154.67,894.06 L155.06,895.07 L155.45,896.08 L155.84,897.09 L156.24,898.10 L156.65,899.11 L157.06,900.12 L157.47,901.13 L157.90,902.13 L158.33,903.14 L158.77,904.14 L159.22,905.13 L159.67,906.12 L160.14,907.10 L160.62,908.07 L161.11,909.04 L161.61,910.00 L162.12,910.94 L162.64,911.88 L163.19,912.81 L163.76,913.74 L164.35,914.66 L164.96,915.58 L165.59,916.47 L166.24,917.35 L166.91,918.21 L167.59,919.03 L168.30,919.83 L169.02,920.61 L169.76,921.38 L170.52,922.14 L171.30,922.88 L172.10,923.61 L172.92,924.32 L173.76,925.02 L174.62,925.70 L175.50,926.37 L176.40,927.01 L177.31,927.64 L178.25,928.25" fill="none" stroke="#24717a" stroke-width="4.0" stroke-linecap="butt" stroke-linejoin="round" stroke-dasharray="4.1 4.3" />
<polyline points="160.38,919.26 178.25,928.25 169.08,910.48" fill="none" stroke="#24717a" stroke-width="4.3" stroke-linejoin="miter" stroke-miterlimit="10" stroke-linecap="butt"/>
<path d="M101.90,1095.00 L102.04,1095.76 L102.18,1096.52 L102.33,1097.28 L102.47,1098.03 L102.62,1098.79 L102.76,1099.55 L102.91,1100.31 L103.05,1101.06 L103.20,1101.82 L103.35,1102.58 L103.49,1103.34 L103.64,1104.09 L103.79,1104.85 L103.94,1105.61 L104.09,1106.36 L104.24,1107.12 L104.39,1107.88 L104.54,1108.63 L104.69,1109.39 L104.85,1110.15 L105.00,1110.90 L105.15,1111.66 L105.31,1112.42 L105.46,1113.17 L105.61,1113.93 L105.77,1114.68 L105.93,1115.44 L106.08,1116.19 L106.24,1116.95 L106.39,1117.71 L106.54,1118.47 L106.69,1119.22 L106.84,1119.98 L106.99,1120.74 L107.14,1121.50 L107.29,1122.26 L107.44,1123.02 L107.60,1123.77 L107.75,1124.53 L107.91,1125.29 L108.07,1126.04 L108.24,1126.80 L108.40,1127.55 L108.58,1128.30 L108.75,1129.05 L108.93,1129.80 L109.12,1130.54 L109.31,1131.29 L109.51,1132.03 L109.71,1132.77 L109.92,1133.51 L110.14,1134.25 L110.37,1134.99 L110.60,1135.73 L110.84,1136.46 L111.08,1137.20 L111.33,1137.93 L111.59,1138.66 L111.85,1139.39 L112.12,1140.12 L112.40,1140.84 L112.67,1141.56 L112.96,1142.28 L113.25,1142.99 L113.55,1143.70 L113.85,1144.41 L114.16,1145.11 L114.48,1145.80 L114.82,1146.50 L115.16,1147.19 L115.52,1147.88 L115.89,1148.56 L116.26,1149.24 L116.64,1149.91 L117.03,1150.58 L117.42,1151.25 L117.81,1151.91 L118.21,1152.57 L118.62,1153.23 L119.03,1153.89 L119.44,1154.55 L119.87,1155.20 L120.31,1155.84 L120.75,1156.48 L121.21,1157.10 L121.68,1157.71 L122.16,1158.30 L122.65,1158.87 L123.17,1159.43 L123.70,1159.99 L124.25,1160.53 L124.82,1161.06 L125.40,1161.58 L125.99,1162.09 L126.59,1162.59 L127.19,1163.08 L127.80,1163.55 L128.42,1164.01 L129.03,1164.47 L129.66,1164.93 L130.30,1165.39 L130.95,1165.83 L131.60,1166.26 L132.27,1166.65 L132.95,1167.02 L133.63,1167.35 L134.32,1167.63 L135.03,1167.90 L135.73,1168.16 L136.45,1168.42 L137.18,1168.66 L137.91,1168.90 L138.65,1169.12 L139.40,1169.32 L140.16,1169.50 L140.93,1169.66 L141.70,1169.81 L142.49,1169.92 L143.28,1170.02" fill="none" stroke="#24717a" stroke-width="4.0" stroke-linecap="butt" stroke-linejoin="round" stroke-dasharray="4.1 4.3" />
<polyline points="123.32,1168.76 143.28,1170.02 127.87,1157.27" fill="none" stroke="#24717a" stroke-width="4.3" stroke-linejoin="miter" stroke-miterlimit="10" stroke-linecap="butt"/>
<path d="M201.00,1164.90 L202.56,1163.94 L204.11,1162.98 L205.67,1162.03 L207.23,1161.07 L208.79,1160.11 L210.35,1159.16 L211.91,1158.20 L213.47,1157.25 L215.03,1156.29 L216.59,1155.34 L218.15,1154.39 L219.71,1153.43 L221.27,1152.48 L222.83,1151.53 L224.39,1150.58 L225.95,1149.63 L227.52,1148.68 L229.08,1147.73 L230.64,1146.79 L232.21,1145.84 L233.77,1144.89 L235.33,1143.94 L236.89,1142.98 L238.45,1142.02 L240.01,1141.06 L241.57,1140.10 L243.12,1139.14 L244.68,1138.18 L246.24,1137.22 L247.79,1136.26 L249.35,1135.30 L250.91,1134.34 L252.48,1133.39 L254.04,1132.45 L255.61,1131.50 L257.18,1130.57 L258.75,1129.64 L260.33,1128.71 L261.91,1127.80 L263.50,1126.89 L265.09,1125.99 L266.68,1125.11 L268.28,1124.23 L269.88,1123.34 L271.48,1122.43 L273.08,1121.52 L274.68,1120.61 L276.29,1119.69 L277.89,1118.77 L279.50,1117.86 L281.11,1116.95 L282.73,1116.04 L284.35,1115.16 L285.97,1114.28 L287.60,1113.42 L289.24,1112.59 L290.88,1111.78 L292.53,1110.99 L294.19,1110.24 L295.85,1109.51 L297.52,1108.82 L299.21,1108.17 L300.90,1107.57 L302.60,1107.00 L304.31,1106.46 L306.03,1105.94 L307.77,1105.42 L309.52,1104.91 L311.28,1104.41 L313.04,1103.93 L314.82,1103.46 L316.60,1103.00 L318.39,1102.56 L320.19,1102.13 L321.99,1101.72 L323.79,1101.33 L325.60,1100.96 L327.41,1100.61 L329.22,1100.27 L331.03,1099.96 L332.84,1099.67 L334.65,1099.40 L336.45,1099.15 L338.26,1098.93 L340.06,1098.73 L341.87,1098.53 L343.68,1098.34 L345.50,1098.15 L347.32,1097.98 L349.14,1097.81 L350.96,1097.66 L352.79,1097.50 L354.61,1097.36 L356.44,1097.22 L358.27,1097.09 L360.10,1096.96 L361.93,1096.84 L363.76,1096.72 L365.59,1096.61 L367.41,1096.50 L369.24,1096.40 L371.07,1096.30 L372.89,1096.20 L374.72,1096.11 L376.54,1096.02 L378.37,1095.94 L380.20,1095.86 L382.02,1095.79 L383.85,1095.72 L385.68,1095.66 L387.51,1095.60 L389.33,1095.55 L391.16,1095.49 L392.99,1095.45 L394.82,1095.40 L396.65,1095.36 L398.47,1095.32 L400.30,1095.29 L402.13,1095.26" fill="none" stroke="#c48998" stroke-width="4.0" stroke-linecap="butt" stroke-linejoin="round" stroke-dasharray="4.1 4.3" />
<polyline points="383.27,1101.90 402.13,1095.26 382.96,1089.54" fill="none" stroke="#c48998" stroke-width="4.3" stroke-linejoin="miter" stroke-miterlimit="10" stroke-linecap="butt"/>
<path d="M221.30,949.80 L224.49,950.78 L227.69,951.75 L230.88,952.72 L234.08,953.68 L237.28,954.64 L240.48,955.59 L243.68,956.53 L246.88,957.46 L250.09,958.39 L253.30,959.31 L256.51,960.22 L259.72,961.13 L262.93,962.02 L266.14,962.91 L269.36,963.79 L272.57,964.67 L275.79,965.53 L279.01,966.39 L282.24,967.24 L285.46,968.07 L288.68,968.91 L291.91,969.73 L295.14,970.54 L298.37,971.34 L301.60,972.14 L304.84,972.92 L308.07,973.70 L311.31,974.46 L314.55,975.22 L317.79,975.96 L321.03,976.70 L324.27,977.42 L327.52,978.14 L330.76,978.84 L334.01,979.54 L337.26,980.22 L340.51,980.89 L343.76,981.55 L347.02,982.21 L350.28,982.86 L353.54,983.50 L356.80,984.14 L360.06,984.77 L363.33,985.40 L366.60,986.02 L369.87,986.64 L373.14,987.25 L376.42,987.85 L379.70,988.45 L382.98,989.05 L386.26,989.63 L389.54,990.21 L392.82,990.79 L396.11,991.36 L399.39,991.92 L402.68,992.47 L405.97,993.02 L409.26,993.56 L412.55,994.10 L415.84,994.63 L419.14,995.15 L422.43,995.66 L425.73,996.17 L429.02,996.67 L432.32,997.17 L435.61,997.65 L438.91,998.13 L442.21,998.60 L445.51,999.07 L448.81,999.52 L452.11,999.97 L455.41,1000.41 L458.70,1000.85 L462.00,1001.27 L465.30,1001.69 L468.60,1002.10 L471.90,1002.50 L475.20,1002.90 L478.51,1003.29 L481.81,1003.68 L485.12,1004.06 L488.42,1004.44 L491.73,1004.81 L495.04,1005.18 L498.35,1005.54 L501.66,1005.90 L504.97,1006.25 L508.28,1006.60 L511.59,1006.94 L514.91,1007.28 L518.22,1007.61 L521.54,1007.95 L524.85,1008.27 L528.17,1008.59 L531.48,1008.91 L534.80,1009.22 L538.12,1009.53 L541.43,1009.84 L544.75,1010.14 L548.07,1010.44 L551.39,1010.74 L554.71,1011.03 L558.02,1011.32 L561.34,1011.60 L564.66,1011.88 L567.98,1012.16 L571.30,1012.44 L574.62,1012.71 L577.94,1012.98 L581.25,1013.24 L584.57,1013.49 L587.90,1013.72 L591.22,1013.95 L594.54,1014.18 L597.86,1014.40 L601.18,1014.62 L604.51,1014.83 L607.83,1015.04 L611.15,1015.24" fill="none" stroke="#a3ab8e" stroke-width="4.0" stroke-linecap="butt" stroke-linejoin="round" stroke-dasharray="4.1 4.3" />
<polyline points="591.67,1019.73 611.15,1015.24 592.74,1007.42" fill="none" stroke="#a3ab8e" stroke-width="4.3" stroke-linejoin="miter" stroke-miterlimit="10" stroke-linecap="butt"/>
<path d="M348.20,1130.60 L350.40,1130.26 L352.60,1129.93 L354.80,1129.59 L357.00,1129.26 L359.20,1128.92 L361.40,1128.59 L363.60,1128.26 L365.80,1127.94 L368.00,1127.61 L370.20,1127.28 L372.40,1126.96 L374.60,1126.64 L376.80,1126.32 L379.01,1126.00 L381.21,1125.68 L383.41,1125.36 L385.61,1125.05 L387.81,1124.74 L390.02,1124.42 L392.22,1124.11 L394.42,1123.81 L396.62,1123.50 L398.83,1123.19 L401.03,1122.89 L403.24,1122.59 L405.44,1122.29 L407.64,1121.99 L409.85,1121.69 L412.05,1121.40 L414.26,1121.10 L416.46,1120.81 L418.67,1120.52 L420.87,1120.23 L423.08,1119.94 L425.28,1119.66 L427.49,1119.37 L429.69,1119.09 L431.90,1118.81 L434.10,1118.53 L436.31,1118.25 L438.52,1117.98 L440.72,1117.71 L442.93,1117.43 L445.14,1117.16 L447.34,1116.90 L449.55,1116.63 L451.76,1116.37 L453.97,1116.10 L456.17,1115.84 L458.38,1115.58 L460.59,1115.33 L462.80,1115.07 L465.01,1114.82 L467.21,1114.57 L469.42,1114.32 L471.63,1114.07 L473.84,1113.82 L476.05,1113.57 L478.26,1113.33 L480.47,1113.08 L482.68,1112.84 L484.89,1112.59 L487.10,1112.35 L489.31,1112.11 L491.52,1111.87 L493.73,1111.63 L495.95,1111.39 L498.16,1111.16 L500.37,1110.92 L502.58,1110.69 L504.79,1110.46 L507.00,1110.23 L509.22,1110.00 L511.43,1109.77 L513.64,1109.54 L515.86,1109.32 L518.07,1109.09 L520.28,1108.87 L522.50,1108.65 L524.71,1108.43 L526.92,1108.21 L529.14,1108.00 L531.35,1107.78 L533.57,1107.57 L535.78,1107.36 L538.00,1107.15 L540.21,1106.95 L542.42,1106.74 L544.64,1106.54 L546.85,1106.34 L549.07,1106.14 L551.29,1105.94 L553.50,1105.75 L555.72,1105.55 L557.93,1105.36 L560.15,1105.17 L562.36,1104.99 L564.58,1104.80 L566.80,1104.62 L569.01,1104.44 L571.23,1104.27 L573.45,1104.09 L575.66,1103.92 L577.88,1103.75 L580.10,1103.60 L582.32,1103.45 L584.54,1103.30 L586.76,1103.16 L588.97,1103.01 L591.19,1102.86 L593.41,1102.70 L595.63,1102.53 L597.85,1102.36 L600.06,1102.19 L602.28,1102.01 L604.50,1101.84 L606.71,1101.66 L608.93,1101.47 L611.15,1101.29" fill="none" stroke="#a3ab8e" stroke-width="4.0" stroke-linecap="butt" stroke-linejoin="round" stroke-dasharray="4.1 4.3" />
<polyline points="592.64,1108.87 611.15,1101.29 591.72,1096.55" fill="none" stroke="#a3ab8e" stroke-width="4.3" stroke-linejoin="miter" stroke-miterlimit="10" stroke-linecap="butt"/>
</svg>
</body></html>
